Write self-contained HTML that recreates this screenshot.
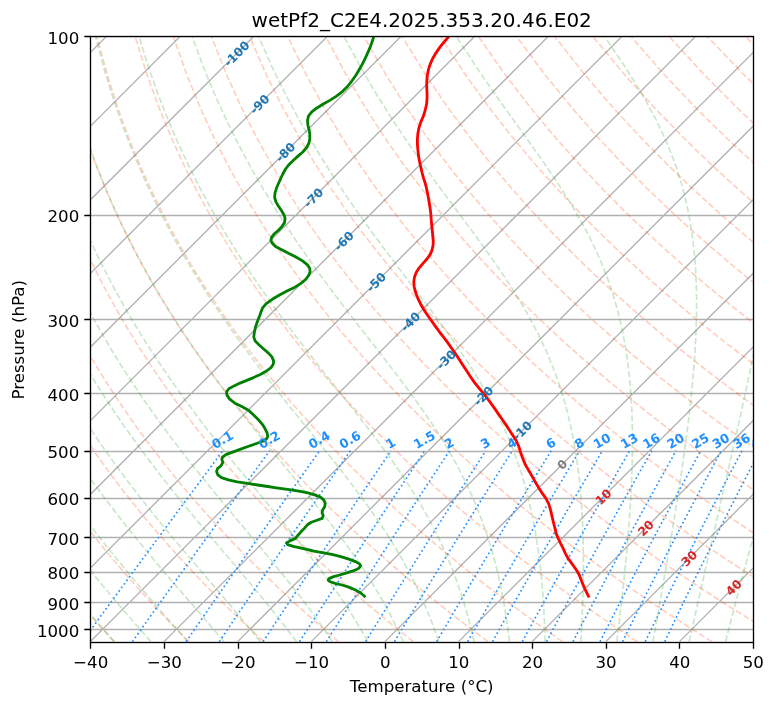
<!DOCTYPE html>
<html><head><meta charset="utf-8"><title>wetPf2_C2E4.2025.353.20.46.E02</title>
<style>html,body{margin:0;padding:0;background:#fff}body{width:775px;height:708px;overflow:hidden}</style></head>
<body>
<svg width="775" height="708" viewBox="0 0 775 708" style="display:block">
<rect width="775" height="708" fill="#fff"/>
<defs><clipPath id="ax"><rect x="90.5" y="36.5" width="663" height="606"/></clipPath></defs>
<g clip-path="url(#ax)" fill="none">
<path d="M90.38,36.50 H754.08 M90.38,215.50 H754.08 M90.38,319.50 H754.08 M90.38,393.50 H754.08 M90.38,451.50 H754.08 M90.38,498.50 H754.08 M90.38,537.50 H754.08 M90.38,572.50 H754.08 M90.38,602.50 H754.08 M90.38,629.50 H754.08 M-572.32,641.62 L32.98,36.32 M-498.69,641.62 L106.61,36.32 M-425.05,641.62 L180.25,36.32 M-351.42,641.62 L253.88,36.32 M-277.79,641.62 L327.51,36.32 M-204.15,641.62 L401.15,36.32 M-130.52,641.62 L474.78,36.32 M-56.89,641.62 L548.41,36.32 M16.75,641.62 L622.05,36.32 M90.38,641.62 L695.68,36.32 M164.01,641.62 L769.31,36.32 M237.65,641.62 L842.95,36.32 M311.28,641.62 L916.58,36.32 M384.91,641.62 L990.21,36.32 M458.55,641.62 L1063.85,36.32 M532.18,641.62 L1137.48,36.32 M605.81,641.62 L1211.11,36.32 M679.45,641.62 L1284.75,36.32 M753.08,641.62 L1358.38,36.32" stroke="#b0b0b0" stroke-width="1.333"/>
<path d="M114.48,641.62 L110.79,637.64 L107.07,633.60 L103.33,629.50 L99.57,625.32 L95.79,621.08 L91.97,616.77 L88.14,612.39 L84.27,607.93 L80.39,603.39 L76.47,598.77 L72.53,594.06 L68.56,589.27 L64.57,584.39 L60.54,579.41 L56.49,574.33 L52.41,569.15 L48.30,563.87 L44.16,558.47 L39.99,552.96 L35.79,547.33 L31.56,541.57 L27.30,535.68 L23.01,529.65 L18.69,523.48 L14.33,517.16 L9.94,510.67 L5.52,504.02 L1.07,497.20 L-3.42,490.19 L-7.94,482.98 L-12.49,475.56 L-17.07,467.92 L-21.68,460.05 L-26.33,451.93 L-31.01,443.55 L-35.72,434.89 L-40.46,425.92 L-45.22,416.63 L-50.02,406.99 L-54.83,396.97 L-59.67,386.56 L-64.52,375.70 L-69.39,364.36 L-74.27,352.50 L-79.14,340.07 L-84.01,327.01 L-88.86,313.24 L-93.67,298.71 L-98.44,283.30 L-103.13,266.91 L-107.73,249.40 L-112.19,230.62 L-116.46,210.35 L-120.48,188.36 L-124.15,164.30 L-127.36,137.77 L-129.92,108.19 L-131.57,74.75 L-131.89,36.32 M189.15,641.62 L185.13,637.64 L181.08,633.60 L177.00,629.50 L172.90,625.32 L168.77,621.08 L164.61,616.77 L160.42,612.39 L156.20,607.93 L151.95,603.39 L147.67,598.77 L143.36,594.06 L139.01,589.27 L134.64,584.39 L130.23,579.41 L125.78,574.33 L121.31,569.15 L116.79,563.87 L112.24,558.47 L107.66,552.96 L103.04,547.33 L98.38,541.57 L93.68,535.68 L88.95,529.65 L84.18,523.48 L79.36,517.16 L74.51,510.67 L69.61,504.02 L64.68,497.20 L59.70,490.19 L54.68,482.98 L49.61,475.56 L44.51,467.92 L39.35,460.05 L34.16,451.93 L28.92,443.55 L23.64,434.89 L18.31,425.92 L12.94,416.63 L7.53,406.99 L2.08,396.97 L-3.41,386.56 L-8.94,375.70 L-14.50,364.36 L-20.09,352.50 L-25.71,340.07 L-31.35,327.01 L-37.00,313.24 L-42.64,298.71 L-48.27,283.30 L-53.87,266.91 L-59.42,249.40 L-64.87,230.62 L-70.19,210.35 L-75.33,188.36 L-80.19,164.30 L-84.68,137.77 L-88.62,108.19 L-91.77,74.75 L-93.75,36.32 M263.81,641.62 L259.46,637.64 L255.08,633.60 L250.67,629.50 L246.23,625.32 L241.75,621.08 L237.25,616.77 L232.70,612.39 L228.13,607.93 L223.52,603.39 L218.87,598.77 L214.19,594.06 L209.47,589.27 L204.71,584.39 L199.91,579.41 L195.08,574.33 L190.20,569.15 L185.29,563.87 L180.33,558.47 L175.33,552.96 L170.29,547.33 L165.20,541.57 L160.07,535.68 L154.89,529.65 L149.67,523.48 L144.40,517.16 L139.08,510.67 L133.71,504.02 L128.28,497.20 L122.81,490.19 L117.29,482.98 L111.71,475.56 L106.08,467.92 L100.39,460.05 L94.65,451.93 L88.85,443.55 L83.00,434.89 L77.08,425.92 L71.11,416.63 L65.08,406.99 L58.99,396.97 L52.85,386.56 L46.64,375.70 L40.39,364.36 L34.08,352.50 L27.72,340.07 L21.31,327.01 L14.87,313.24 L8.39,298.71 L1.89,283.30 L-4.61,266.91 L-11.10,249.40 L-17.55,230.62 L-23.93,210.35 L-30.18,188.36 L-36.23,164.30 L-41.99,137.77 L-47.31,108.19 L-51.97,74.75 L-55.61,36.32 M338.48,641.62 L333.80,637.64 L329.09,633.60 L324.34,629.50 L319.56,625.32 L314.74,621.08 L309.88,616.77 L304.99,612.39 L300.05,607.93 L295.08,603.39 L290.07,598.77 L285.01,594.06 L279.92,589.27 L274.78,584.39 L269.60,579.41 L264.37,574.33 L259.10,569.15 L253.78,563.87 L248.41,558.47 L243.00,552.96 L237.53,547.33 L232.02,541.57 L226.45,535.68 L220.83,529.65 L215.16,523.48 L209.43,517.16 L203.64,510.67 L197.80,504.02 L191.89,497.20 L185.93,490.19 L179.90,482.98 L173.81,475.56 L167.65,467.92 L161.43,460.05 L155.14,451.93 L148.78,443.55 L142.35,434.89 L135.85,425.92 L129.28,416.63 L122.63,406.99 L115.90,396.97 L109.10,386.56 L102.23,375.70 L95.28,364.36 L88.25,352.50 L81.14,340.07 L73.97,327.01 L66.73,313.24 L59.42,298.71 L52.06,283.30 L44.65,266.91 L37.21,249.40 L29.76,230.62 L22.34,210.35 L14.97,188.36 L7.73,164.30 L0.69,137.77 L-6.01,108.19 L-12.17,74.75 L-17.47,36.32 M413.15,641.62 L408.14,637.64 L403.09,633.60 L398.01,629.50 L392.89,625.32 L387.72,621.08 L382.52,616.77 L377.27,612.39 L371.98,607.93 L366.65,603.39 L361.27,598.77 L355.84,594.06 L350.37,589.27 L344.85,584.39 L339.28,579.41 L333.66,574.33 L328.00,569.15 L322.27,563.87 L316.50,558.47 L310.67,552.96 L304.78,547.33 L298.84,541.57 L292.84,535.68 L286.77,529.65 L280.65,523.48 L274.46,517.16 L268.21,510.67 L261.89,504.02 L255.50,497.20 L249.04,490.19 L242.51,482.98 L235.91,475.56 L229.23,467.92 L222.47,460.05 L215.63,451.93 L208.71,443.55 L201.71,434.89 L194.62,425.92 L187.44,416.63 L180.18,406.99 L172.82,396.97 L165.36,386.56 L157.81,375.70 L150.16,364.36 L142.42,352.50 L134.57,340.07 L126.63,327.01 L118.59,313.24 L110.45,298.71 L102.22,283.30 L93.91,266.91 L85.53,249.40 L77.08,230.62 L68.60,210.35 L60.12,188.36 L51.68,164.30 L43.37,137.77 L35.30,108.19 L27.63,74.75 L20.66,36.32 M487.81,641.62 L482.48,637.64 L477.10,633.60 L471.68,629.50 L466.22,625.32 L460.71,621.08 L455.15,616.77 L449.55,612.39 L443.91,607.93 L438.21,603.39 L432.47,598.77 L426.67,594.06 L420.82,589.27 L414.92,584.39 L408.97,579.41 L402.96,574.33 L396.89,569.15 L390.77,563.87 L384.58,558.47 L378.34,552.96 L372.03,547.33 L365.66,541.57 L359.22,535.68 L352.72,529.65 L346.14,523.48 L339.50,517.16 L332.78,510.67 L325.98,504.02 L319.11,497.20 L312.16,490.19 L305.13,482.98 L298.01,475.56 L290.80,467.92 L283.51,460.05 L276.13,451.93 L268.65,443.55 L261.07,434.89 L253.39,425.92 L245.61,416.63 L237.72,406.99 L229.73,396.97 L221.62,386.56 L213.40,375.70 L205.05,364.36 L196.59,352.50 L188.00,340.07 L179.29,327.01 L170.45,313.24 L161.48,298.71 L152.39,283.30 L143.17,266.91 L133.84,249.40 L124.40,230.62 L114.87,210.35 L105.27,188.36 L95.64,164.30 L86.06,137.77 L76.60,108.19 L67.43,74.75 L58.80,36.32 M562.48,641.62 L556.82,637.64 L551.11,633.60 L545.35,629.50 L539.54,625.32 L533.69,621.08 L527.79,616.77 L521.84,612.39 L515.83,607.93 L509.78,603.39 L503.66,598.77 L497.50,594.06 L491.27,589.27 L484.99,584.39 L478.65,579.41 L472.25,574.33 L465.79,569.15 L459.26,563.87 L452.67,558.47 L446.01,552.96 L439.28,547.33 L432.48,541.57 L425.60,535.68 L418.66,529.65 L411.63,523.48 L404.53,517.16 L397.34,510.67 L390.07,504.02 L382.72,497.20 L375.27,490.19 L367.74,482.98 L360.11,475.56 L352.38,467.92 L344.55,460.05 L336.62,451.93 L328.58,443.55 L320.43,434.89 L312.16,425.92 L303.78,416.63 L295.27,406.99 L286.64,396.97 L277.88,386.56 L268.98,375.70 L259.94,364.36 L250.76,352.50 L241.43,340.07 L231.95,327.01 L222.31,313.24 L212.51,298.71 L202.56,283.30 L192.43,266.91 L182.15,249.40 L171.71,230.62 L161.13,210.35 L150.42,188.36 L139.60,164.30 L128.74,137.77 L117.90,108.19 L107.23,74.75 L96.94,36.32 M637.15,641.62 L631.15,637.64 L625.11,633.60 L619.02,629.50 L612.87,625.32 L606.68,621.08 L600.43,616.77 L594.12,612.39 L587.76,607.93 L581.34,603.39 L574.86,598.77 L568.33,594.06 L561.73,589.27 L555.06,584.39 L548.34,579.41 L541.55,574.33 L534.68,569.15 L527.75,563.87 L520.75,558.47 L513.68,552.96 L506.53,547.33 L499.30,541.57 L491.99,535.68 L484.60,529.65 L477.12,523.48 L469.56,517.16 L461.91,510.67 L454.17,504.02 L446.33,497.20 L438.39,490.19 L430.35,482.98 L422.21,475.56 L413.95,467.92 L405.59,460.05 L397.11,451.93 L388.51,443.55 L379.78,434.89 L370.93,425.92 L361.95,416.63 L352.82,406.99 L343.55,396.97 L334.13,386.56 L324.56,375.70 L314.83,364.36 L304.93,352.50 L294.86,340.07 L284.61,327.01 L274.17,313.24 L263.55,298.71 L252.72,283.30 L241.70,266.91 L230.47,249.40 L219.03,230.62 L207.39,210.35 L195.57,188.36 L183.56,164.30 L171.42,137.77 L159.21,108.19 L147.03,74.75 L135.08,36.32 M711.82,641.62 L705.49,637.64 L699.12,633.60 L692.69,629.50 L686.20,625.32 L679.66,621.08 L673.06,616.77 L666.40,612.39 L659.68,607.93 L652.90,603.39 L646.06,598.77 L639.15,594.06 L632.18,589.27 L625.14,584.39 L618.02,579.41 L610.84,574.33 L603.58,569.15 L596.25,563.87 L588.84,558.47 L581.35,552.96 L573.77,547.33 L566.12,541.57 L558.37,535.68 L550.54,529.65 L542.61,523.48 L534.59,517.16 L526.48,510.67 L518.26,504.02 L509.93,497.20 L501.50,490.19 L492.96,482.98 L484.30,475.56 L475.53,467.92 L466.63,460.05 L457.60,451.93 L448.44,443.55 L439.14,434.89 L429.70,425.92 L420.11,416.63 L410.37,406.99 L400.46,396.97 L390.39,386.56 L380.15,375.70 L369.72,364.36 L359.10,352.50 L348.29,340.07 L337.27,327.01 L326.03,313.24 L314.58,298.71 L302.89,283.30 L290.96,266.91 L278.78,249.40 L266.35,230.62 L253.66,210.35 L240.71,188.36 L227.52,164.30 L214.11,137.77 L200.51,108.19 L186.83,74.75 L173.22,36.32 M786.48,641.62 L779.83,637.64 L773.12,633.60 L766.36,629.50 L759.53,625.32 L752.64,621.08 L745.70,616.77 L738.69,612.39 L731.61,607.93 L724.47,603.39 L717.26,598.77 L709.98,594.06 L702.63,589.27 L695.21,584.39 L687.71,579.41 L680.13,574.33 L672.48,569.15 L664.74,563.87 L656.92,558.47 L649.02,552.96 L641.02,547.33 L632.94,541.57 L624.76,535.68 L616.48,529.65 L608.11,523.48 L599.63,517.16 L591.04,510.67 L582.35,504.02 L573.54,497.20 L564.62,490.19 L555.57,482.98 L546.40,475.56 L537.10,467.92 L527.67,460.05 L518.09,451.93 L508.37,443.55 L498.50,434.89 L488.47,425.92 L478.28,416.63 L467.92,406.99 L457.38,396.97 L446.65,386.56 L435.73,375.70 L424.61,364.36 L413.27,352.50 L401.72,340.07 L389.93,327.01 L377.90,313.24 L365.61,298.71 L353.05,283.30 L340.22,266.91 L327.09,249.40 L313.66,230.62 L299.92,210.35 L285.86,188.36 L271.48,164.30 L256.79,137.77 L241.82,108.19 L226.63,74.75 L211.35,36.32 M861.15,641.62 L854.17,637.64 L847.13,633.60 L840.02,629.50 L832.86,625.32 L825.63,621.08 L818.33,616.77 L810.97,612.39 L803.54,607.93 L796.03,603.39 L788.46,598.77 L780.81,594.06 L773.08,589.27 L765.28,584.39 L757.39,579.41 L749.43,574.33 L741.37,569.15 L733.23,563.87 L725.01,558.47 L716.69,552.96 L708.27,547.33 L699.76,541.57 L691.14,535.68 L682.42,529.65 L673.60,523.48 L664.66,517.16 L655.61,510.67 L646.44,504.02 L637.15,497.20 L627.73,490.19 L618.19,482.98 L608.50,475.56 L598.68,467.92 L588.71,460.05 L578.58,451.93 L568.30,443.55 L557.86,434.89 L547.24,425.92 L536.45,416.63 L525.46,406.99 L514.29,396.97 L502.91,386.56 L491.31,375.70 L479.50,364.36 L467.44,352.50 L455.15,340.07 L442.59,327.01 L429.76,313.24 L416.64,298.71 L403.22,283.30 L389.48,266.91 L375.41,249.40 L360.98,230.62 L346.19,210.35 L331.01,188.36 L315.44,164.30 L299.47,137.77 L283.12,108.19 L266.43,74.75 L249.49,36.32 M935.82,641.62 L928.51,637.64 L921.13,633.60 L913.69,629.50 L906.19,625.32 L898.61,621.08 L890.97,616.77 L883.25,612.39 L875.46,607.93 L867.60,603.39 L859.66,598.77 L851.64,594.06 L843.54,589.27 L835.35,584.39 L827.08,579.41 L818.72,574.33 L810.27,569.15 L801.73,563.87 L793.09,558.47 L784.35,552.96 L775.52,547.33 L766.57,541.57 L757.52,535.68 L748.36,529.65 L739.09,523.48 L729.69,517.16 L720.18,510.67 L710.53,504.02 L700.76,497.20 L690.85,490.19 L680.80,482.98 L670.60,475.56 L660.25,467.92 L649.75,460.05 L639.08,451.93 L628.23,443.55 L617.22,434.89 L606.01,425.92 L594.61,416.63 L583.01,406.99 L571.20,396.97 L559.17,386.56 L546.90,375.70 L534.39,364.36 L521.61,352.50 L508.57,340.07 L495.25,327.01 L481.62,313.24 L467.67,298.71 L453.38,283.30 L438.74,266.91 L423.72,249.40 L408.30,230.62 L392.45,210.35 L376.16,188.36 L359.40,164.30 L342.16,137.77 L324.43,108.19 L306.23,74.75 L287.63,36.32 M1010.48,641.62 L1002.84,637.64 L995.14,633.60 L987.36,629.50 L979.52,625.32 L971.60,621.08 L963.61,616.77 L955.54,612.39 L947.39,607.93 L939.16,603.39 L930.86,598.77 L922.47,594.06 L913.99,589.27 L905.42,584.39 L896.76,579.41 L888.01,574.33 L879.17,569.15 L870.22,563.87 L861.18,558.47 L852.02,552.96 L842.76,547.33 L833.39,541.57 L823.91,535.68 L814.31,529.65 L804.58,523.48 L794.73,517.16 L784.74,510.67 L774.63,504.02 L764.37,497.20 L753.96,490.19 L743.41,482.98 L732.70,475.56 L721.83,467.92 L710.79,460.05 L699.57,451.93 L688.17,443.55 L676.57,434.89 L664.78,425.92 L652.78,416.63 L640.56,406.99 L628.11,396.97 L615.42,386.56 L602.48,375.70 L589.27,364.36 L575.79,352.50 L562.00,340.07 L547.91,327.01 L533.48,313.24 L518.70,298.71 L503.55,283.30 L488.00,266.91 L472.03,249.40 L455.61,230.62 L438.72,210.35 L421.31,188.36 L403.36,164.30 L384.84,137.77 L365.73,108.19 L346.03,74.75 L325.77,36.32 M1085.15,641.62 L1077.18,637.64 L1069.14,633.60 L1061.03,629.50 L1052.84,625.32 L1044.58,621.08 L1036.24,616.77 L1027.82,612.39 L1019.32,607.93 L1010.73,603.39 L1002.06,598.77 L993.29,594.06 L984.44,589.27 L975.49,584.39 L966.45,579.41 L957.31,574.33 L948.06,569.15 L938.72,563.87 L929.26,558.47 L919.69,552.96 L910.01,547.33 L900.21,541.57 L890.29,535.68 L880.25,529.65 L870.07,523.48 L859.76,517.16 L849.31,510.67 L838.72,504.02 L827.98,497.20 L817.08,490.19 L806.02,482.98 L794.80,475.56 L783.40,467.92 L771.82,460.05 L760.06,451.93 L748.10,443.55 L735.93,434.89 L723.55,425.92 L710.95,416.63 L698.11,406.99 L685.02,396.97 L671.68,386.56 L658.07,375.70 L644.16,364.36 L629.96,352.50 L615.43,340.07 L600.57,327.01 L585.34,313.24 L569.73,298.71 L553.72,283.30 L537.26,266.91 L520.35,249.40 L502.93,230.62 L484.98,210.35 L466.46,188.36 L447.32,164.30 L427.53,137.77 L407.04,108.19 L385.83,74.75 L363.91,36.32 M1159.82,641.62 L1151.52,637.64 L1143.15,633.60 L1134.70,629.50 L1126.17,625.32 L1117.57,621.08 L1108.88,616.77 L1100.10,612.39 L1091.24,607.93 L1082.29,603.39 L1073.25,598.77 L1064.12,594.06 L1054.89,589.27 L1045.56,584.39 L1036.13,579.41 L1026.60,574.33 L1016.96,569.15 L1007.21,563.87 L997.34,558.47 L987.36,552.96 L977.26,547.33 L967.03,541.57 L956.68,535.68 L946.19,529.65 L935.56,523.48 L924.79,517.16 L913.88,510.67 L902.81,504.02 L891.58,497.20 L880.19,490.19 L868.63,482.98 L856.90,475.56 L844.98,467.92 L832.86,460.05 L820.55,451.93 L808.03,443.55 L795.29,434.89 L782.32,425.92 L769.11,416.63 L755.66,406.99 L741.94,396.97 L727.94,386.56 L713.65,375.70 L699.05,364.36 L684.13,352.50 L668.86,340.07 L653.23,327.01 L637.20,313.24 L620.76,298.71 L603.88,283.30 L586.53,266.91 L568.66,249.40 L550.25,230.62 L531.25,210.35 L511.61,188.36 L491.28,164.30 L470.21,137.77 L448.34,108.19 L425.63,74.75 L402.05,36.32 M1234.48,641.62 L1225.86,637.64 L1217.15,633.60 L1208.37,629.50 L1199.50,625.32 L1190.55,621.08 L1181.51,616.77 L1172.39,612.39 L1163.17,607.93 L1153.86,603.39 L1144.45,598.77 L1134.95,594.06 L1125.34,589.27 L1115.63,584.39 L1105.82,579.41 L1095.89,574.33 L1085.86,569.15 L1075.70,563.87 L1065.43,558.47 L1055.03,552.96 L1044.51,547.33 L1033.85,541.57 L1023.06,535.68 L1012.13,529.65 L1001.05,523.48 L989.83,517.16 L978.45,510.67 L966.90,504.02 L955.19,497.20 L943.31,490.19 L931.25,482.98 L919.00,475.56 L906.55,467.92 L893.90,460.05 L881.04,451.93 L867.96,443.55 L854.65,434.89 L841.09,425.92 L827.28,416.63 L813.21,406.99 L798.85,396.97 L784.20,386.56 L769.23,375.70 L753.94,364.36 L738.30,352.50 L722.29,340.07 L705.89,327.01 L689.06,313.24 L671.79,298.71 L654.05,283.30 L635.79,266.91 L616.97,249.40 L597.56,230.62 L577.51,210.35 L556.75,188.36 L535.24,164.30 L512.89,137.77 L489.65,108.19 L465.43,74.75 L440.18,36.32 M1309.15,641.62 L1300.20,637.64 L1291.16,633.60 L1282.04,629.50 L1272.83,625.32 L1263.54,621.08 L1254.15,616.77 L1244.67,612.39 L1235.10,607.93 L1225.42,603.39 L1215.65,598.77 L1205.78,594.06 L1195.80,589.27 L1185.71,584.39 L1175.50,579.41 L1165.19,574.33 L1154.75,569.15 L1144.20,563.87 L1133.51,558.47 L1122.70,552.96 L1111.76,547.33 L1100.67,541.57 L1089.44,535.68 L1078.07,529.65 L1066.54,523.48 L1054.86,517.16 L1043.01,510.67 L1030.99,504.02 L1018.80,497.20 L1006.42,490.19 L993.86,482.98 L981.10,475.56 L968.13,467.92 L954.94,460.05 L941.53,451.93 L927.89,443.55 L914.00,434.89 L899.86,425.92 L885.45,416.63 L870.75,406.99 L855.76,396.97 L840.45,386.56 L824.82,375.70 L808.83,364.36 L792.47,352.50 L775.72,340.07 L758.54,327.01 L740.92,313.24 L722.83,298.71 L704.21,283.30 L685.05,266.91 L665.29,249.40 L644.88,230.62 L623.77,210.35 L601.90,188.36 L579.20,164.30 L555.58,137.77 L530.95,108.19 L505.23,74.75 L478.32,36.32 M1383.82,641.62 L1374.53,637.64 L1365.16,633.60 L1355.71,629.50 L1346.16,625.32 L1336.52,621.08 L1326.78,616.77 L1316.95,612.39 L1307.02,607.93 L1296.99,603.39 L1286.85,598.77 L1276.60,594.06 L1266.25,589.27 L1255.78,584.39 L1245.19,579.41 L1234.48,574.33 L1223.65,569.15 L1212.69,563.87 L1201.60,558.47 L1190.37,552.96 L1179.00,547.33 L1167.49,541.57 L1155.83,535.68 L1144.01,529.65 L1132.04,523.48 L1119.89,517.16 L1107.58,510.67 L1095.09,504.02 L1082.41,497.20 L1069.54,490.19 L1056.47,482.98 L1043.19,475.56 L1029.70,467.92 L1015.98,460.05 L1002.03,451.93 L987.82,443.55 L973.36,434.89 L958.63,425.92 L943.62,416.63 L928.30,406.99 L912.67,396.97 L896.71,386.56 L880.40,375.70 L863.72,364.36 L846.64,352.50 L829.15,340.07 L811.20,327.01 L792.79,313.24 L773.86,298.71 L754.38,283.30 L734.31,266.91 L713.60,249.40 L692.20,230.62 L670.04,210.35 L647.05,188.36 L623.16,164.30 L598.26,137.77 L572.26,108.19 L545.03,74.75 L516.46,36.32 M1458.48,641.62 L1448.87,637.64 L1439.17,633.60 L1429.38,629.50 L1419.49,625.32 L1409.50,621.08 L1399.42,616.77 L1389.24,612.39 L1378.95,607.93 L1368.55,603.39 L1358.05,598.77 L1347.43,594.06 L1336.70,589.27 L1325.85,584.39 L1314.88,579.41 L1303.78,574.33 L1292.55,569.15 L1281.18,563.87 L1269.68,558.47 L1258.04,552.96 L1246.25,547.33 L1234.31,541.57 L1222.21,535.68 L1209.95,529.65 L1197.53,523.48 L1184.93,517.16 L1172.15,510.67 L1159.18,504.02 L1146.02,497.20 L1132.66,490.19 L1119.08,482.98 L1105.29,475.56 L1091.28,467.92 L1077.02,460.05 L1062.52,451.93 L1047.75,443.55 L1032.72,434.89 L1017.40,425.92 L1001.78,416.63 L985.85,406.99 L969.58,396.97 L952.97,386.56 L935.98,375.70 L918.61,364.36 L900.81,352.50 L882.57,340.07 L863.86,327.01 L844.65,313.24 L824.89,298.71 L804.55,283.30 L783.57,266.91 L761.92,249.40 L739.52,230.62 L716.30,210.35 L692.20,188.36 L667.12,164.30 L640.94,137.77 L613.56,108.19 L584.83,74.75 L554.60,36.32 M1533.15,641.62 L1523.21,637.64 L1513.18,633.60 L1503.05,629.50 L1492.82,625.32 L1482.49,621.08 L1472.06,616.77 L1461.52,612.39 L1450.87,607.93 L1440.12,603.39 L1429.25,598.77 L1418.26,594.06 L1407.15,589.27 L1395.92,584.39 L1384.56,579.41 L1373.07,574.33 L1361.44,569.15 L1349.68,563.87 L1337.77,558.47 L1325.71,552.96 L1313.50,547.33 L1301.13,541.57 L1288.60,535.68 L1275.89,529.65 L1263.02,523.48 L1249.96,517.16 L1236.71,510.67 L1223.27,504.02 L1209.63,497.20 L1195.77,490.19 L1181.70,482.98 L1167.39,475.56 L1152.85,467.92 L1138.06,460.05 L1123.01,451.93 L1107.69,443.55 L1092.08,434.89 L1076.17,425.92 L1059.95,416.63 L1043.40,406.99 L1026.50,396.97 L1009.23,386.56 L991.57,375.70 L973.49,364.36 L954.98,352.50 L936.00,340.07 L916.52,327.01 L896.51,313.24 L875.92,298.71 L854.71,283.30 L832.83,266.91 L810.23,249.40 L786.83,230.62 L762.57,210.35 L737.35,188.36 L711.08,164.30 L683.63,137.77 L654.87,108.19 L624.63,74.75 L592.74,36.32 M1607.82,641.62 L1597.55,637.64 L1587.18,633.60 L1576.71,629.50 L1566.15,625.32 L1555.47,621.08 L1544.69,616.77 L1533.80,612.39 L1522.80,607.93 L1511.68,603.39 L1500.45,598.77 L1489.09,594.06 L1477.60,589.27 L1465.99,584.39 L1454.25,579.41 L1442.36,574.33 L1430.34,569.15 L1418.17,563.87 L1405.85,558.47 L1393.38,552.96 L1380.75,547.33 L1367.95,541.57 L1354.98,535.68 L1341.84,529.65 L1328.51,523.48 L1314.99,517.16 L1301.28,510.67 L1287.36,504.02 L1273.23,497.20 L1258.89,490.19 L1244.31,482.98 L1229.49,475.56 L1214.42,467.92 L1199.10,460.05 L1183.50,451.93 L1167.62,443.55 L1151.44,434.89 L1134.94,425.92 L1118.12,416.63 L1100.95,406.99 L1083.41,396.97 L1065.48,386.56 L1047.15,375.70 L1028.38,364.36 L1009.15,352.50 L989.43,340.07 L969.18,327.01 L948.37,313.24 L926.95,298.71 L904.88,283.30 L882.09,266.91 L858.54,249.40 L834.15,230.62 L808.83,210.35 L782.50,188.36 L755.03,164.30 L726.31,137.77 L696.17,108.19 L664.43,74.75 L630.87,36.32 M1682.49,641.62 L1671.89,637.64 L1661.19,633.60 L1650.38,629.50 L1639.47,625.32 L1628.46,621.08 L1617.33,616.77 L1606.09,612.39 L1594.73,607.93 L1583.25,603.39 L1571.65,598.77 L1559.92,594.06 L1548.06,589.27 L1536.06,584.39 L1523.93,579.41 L1511.66,574.33 L1499.24,569.15 L1486.66,563.87 L1473.94,558.47 L1461.05,552.96 L1447.99,547.33 L1434.77,541.57 L1421.36,535.68 L1407.78,529.65 L1394.00,523.48 L1380.03,517.16 L1365.85,510.67 L1351.45,504.02 L1336.84,497.20 L1322.00,490.19 L1306.92,482.98 L1291.59,475.56 L1276.00,467.92 L1260.14,460.05 L1243.99,451.93 L1227.55,443.55 L1210.79,434.89 L1193.71,425.92 L1176.28,416.63 L1158.49,406.99 L1140.32,396.97 L1121.74,386.56 L1102.73,375.70 L1083.27,364.36 L1063.32,352.50 L1042.86,340.07 L1021.84,327.01 L1000.23,313.24 L977.98,298.71 L955.04,283.30 L931.36,266.91 L906.86,249.40 L881.47,230.62 L855.10,210.35 L827.65,188.36 L798.99,164.30 L769.00,137.77 L737.48,108.19 L704.23,74.75 L669.01,36.32 M1757.15,641.62 L1746.22,637.64 L1735.19,633.60 L1724.05,629.50 L1712.80,625.32 L1701.44,621.08 L1689.96,616.77 L1678.37,612.39 L1666.65,607.93 L1654.81,603.39 L1642.84,598.77 L1630.74,594.06 L1618.51,589.27 L1606.13,584.39 L1593.62,579.41 L1580.95,574.33 L1568.13,569.15 L1555.16,563.87 L1542.02,558.47 L1528.72,552.96 L1515.24,547.33 L1501.59,541.57 L1487.75,535.68 L1473.72,529.65 L1459.49,523.48 L1445.06,517.16 L1430.41,510.67 L1415.55,504.02 L1400.45,497.20 L1385.12,490.19 L1369.53,482.98 L1353.69,475.56 L1337.57,467.92 L1321.18,460.05 L1304.48,451.93 L1287.48,443.55 L1270.15,434.89 L1252.48,425.92 L1234.45,416.63 L1216.04,406.99 L1197.23,396.97 L1178.00,386.56 L1158.32,375.70 L1138.16,364.36 L1117.50,352.50 L1096.29,340.07 L1074.50,327.01 L1052.09,313.24 L1029.01,298.71 L1005.21,283.30 L980.62,266.91 L955.17,249.40 L928.78,230.62 L901.36,210.35 L872.80,188.36 L842.95,164.30 L811.68,137.77 L778.78,108.19 L744.03,74.75 L707.15,36.32 M1831.82,641.62 L1820.56,637.64 L1809.20,633.60 L1797.72,629.50 L1786.13,625.32 L1774.43,621.08 L1762.60,616.77 L1750.65,612.39 L1738.58,607.93 L1726.38,603.39 L1714.04,598.77 L1701.57,594.06 L1688.96,589.27 L1676.21,584.39 L1663.30,579.41 L1650.24,574.33 L1637.03,569.15 L1623.65,563.87 L1610.11,558.47 L1596.39,552.96 L1582.49,547.33 L1568.41,541.57 L1554.13,535.68 L1539.66,529.65 L1524.98,523.48 L1510.09,517.16 L1494.98,510.67 L1479.64,504.02 L1464.06,497.20 L1448.23,490.19 L1432.14,482.98 L1415.79,475.56 L1399.15,467.92 L1382.22,460.05 L1364.98,451.93 L1347.41,443.55 L1329.51,434.89 L1311.25,425.92 L1292.62,416.63 L1273.59,406.99 L1254.14,396.97 L1234.26,386.56 L1213.90,375.70 L1193.05,364.36 L1171.67,352.50 L1149.72,340.07 L1127.16,327.01 L1103.95,313.24 L1080.04,298.71 L1055.37,283.30 L1029.88,266.91 L1003.48,249.40 L976.10,230.62 L947.63,210.35 L917.94,188.36 L886.91,164.30 L854.36,137.77 L820.09,108.19 L783.83,74.75 L745.29,36.32 M1906.49,641.62 L1894.90,637.64 L1883.20,633.60 L1871.39,629.50 L1859.46,625.32 L1847.41,621.08 L1835.24,616.77 L1822.94,612.39 L1810.51,607.93 L1797.94,603.39 L1785.24,598.77 L1772.40,594.06 L1759.41,589.27 L1746.28,584.39 L1732.99,579.41 L1719.54,574.33 L1705.93,569.15 L1692.14,563.87 L1678.19,558.47 L1664.06,552.96 L1649.74,547.33 L1635.23,541.57 L1620.52,535.68 L1605.60,529.65 L1590.47,523.48 L1575.13,517.16 L1559.55,510.67 L1543.73,504.02 L1527.67,497.20 L1511.35,490.19 L1494.76,482.98 L1477.89,475.56 L1460.72,467.92 L1443.26,460.05 L1425.47,451.93 L1407.34,443.55 L1388.87,434.89 L1370.02,425.92 L1350.78,416.63 L1331.14,406.99 L1311.06,396.97 L1290.52,386.56 L1269.49,375.70 L1247.94,364.36 L1225.84,352.50 L1203.15,340.07 L1179.82,327.01 L1155.82,313.24 L1131.08,298.71 L1105.54,283.30 L1079.14,266.91 L1051.80,249.40 L1023.42,230.62 L993.89,210.35 L963.09,188.36 L930.87,164.30 L897.05,137.77 L861.39,108.19 L823.63,74.75 L783.43,36.32 M1981.15,641.62 L1969.24,637.64 L1957.21,633.60 L1945.06,629.50 L1932.79,625.32 L1920.39,621.08 L1907.87,616.77 L1895.22,612.39 L1882.43,607.93 L1869.51,603.39 L1856.44,598.77 L1843.23,594.06 L1829.87,589.27 L1816.35,584.39 L1802.67,579.41 L1788.83,574.33 L1774.82,569.15 L1760.64,563.87 L1746.28,558.47 L1731.73,552.96 L1716.99,547.33 L1702.05,541.57 L1686.90,535.68 L1671.54,529.65 L1655.97,523.48 L1640.16,517.16 L1624.11,510.67 L1607.82,504.02 L1591.28,497.20 L1574.46,490.19 L1557.37,482.98 L1539.98,475.56 L1522.30,467.92 L1504.29,460.05 L1485.96,451.93 L1467.27,443.55 L1448.22,434.89 L1428.79,425.92 L1408.95,416.63 L1388.69,406.99 L1367.97,396.97 L1346.77,386.56 L1325.07,375.70 L1302.83,364.36 L1280.01,352.50 L1256.57,340.07 L1232.48,327.01 L1207.68,313.24 L1182.11,298.71 L1155.71,283.30 L1128.40,266.91 L1100.11,249.40 L1070.73,230.62 L1040.15,210.35 L1008.24,188.36 L974.83,164.30 L939.73,137.77 L902.70,108.19 L863.43,74.75 L821.57,36.32 M2055.82,641.62 L2043.58,637.64 L2031.21,633.60 L2018.73,629.50 L2006.12,625.32 L1993.38,621.08 L1980.51,616.77 L1967.50,612.39 L1954.36,607.93 L1941.07,603.39 L1927.64,598.77 L1914.06,594.06 L1900.32,589.27 L1886.42,584.39 L1872.36,579.41 L1858.12,574.33 L1843.72,569.15 L1829.13,563.87 L1814.36,558.47 L1799.40,552.96 L1784.23,547.33 L1768.86,541.57 L1753.28,535.68 L1737.48,529.65 L1721.46,523.48 L1705.19,517.16 L1688.68,510.67 L1671.92,504.02 L1654.88,497.20 L1637.58,490.19 L1619.98,482.98 L1602.08,475.56 L1583.87,467.92 L1565.33,460.05 L1546.45,451.93 L1527.21,443.55 L1507.58,434.89 L1487.56,425.92 L1467.12,416.63 L1446.23,406.99 L1424.88,396.97 L1403.03,386.56 L1380.65,375.70 L1357.72,364.36 L1334.18,352.50 L1310.00,340.07 L1285.14,327.01 L1259.54,313.24 L1233.14,298.71 L1205.87,283.30 L1177.66,266.91 L1148.42,249.40 L1118.05,230.62 L1086.42,210.35 L1053.39,188.36 L1018.79,164.30 L982.41,137.77 L944.00,108.19 L903.23,74.75 L859.70,36.32 M2130.49,641.62 L2117.91,637.64 L2105.22,633.60 L2092.40,629.50 L2079.45,625.32 L2066.36,621.08 L2053.14,616.77 L2039.79,612.39 L2026.29,607.93 L2012.64,603.39 L1998.84,598.77 L1984.88,594.06 L1970.77,589.27 L1956.49,584.39 L1942.04,579.41 L1927.42,574.33 L1912.61,569.15 L1897.63,563.87 L1882.44,558.47 L1867.06,552.96 L1851.48,547.33 L1835.68,541.57 L1819.67,535.68 L1803.43,529.65 L1786.95,523.48 L1770.22,517.16 L1753.25,510.67 L1736.01,504.02 L1718.49,497.20 L1700.69,490.19 L1682.59,482.98 L1664.18,475.56 L1645.45,467.92 L1626.37,460.05 L1606.94,451.93 L1587.14,443.55 L1566.94,434.89 L1546.33,425.92 L1525.29,416.63 L1503.78,406.99 L1481.79,396.97 L1459.29,386.56 L1436.24,375.70 L1412.60,364.36 L1388.35,352.50 L1363.43,340.07 L1337.80,327.01 L1311.40,313.24 L1284.17,298.71 L1256.04,283.30 L1226.93,266.91 L1196.74,249.40 L1165.37,230.62 L1132.68,210.35 L1098.54,188.36 L1062.75,164.30 L1025.10,137.77 L985.31,108.19 L943.03,74.75 L897.84,36.32 M2205.15,641.62 L2192.25,637.64 L2179.22,633.60 L2166.07,629.50 L2152.77,625.32 L2139.35,621.08 L2125.78,616.77 L2112.07,612.39 L2098.21,607.93 L2084.20,603.39 L2070.04,598.77 L2055.71,594.06 L2041.22,589.27 L2026.56,584.39 L2011.73,579.41 L1996.71,574.33 L1981.51,569.15 L1966.12,563.87 L1950.53,558.47 L1934.73,552.96 L1918.73,547.33 L1902.50,541.57 L1886.05,535.68 L1869.37,529.65 L1852.44,523.48 L1835.26,517.16 L1817.81,510.67 L1800.10,504.02 L1782.10,497.20 L1763.81,490.19 L1745.20,482.98 L1726.28,475.56 L1707.02,467.92 L1687.41,460.05 L1667.43,451.93 L1647.07,443.55 L1626.30,434.89 L1605.10,425.92 L1583.45,416.63 L1561.33,406.99 L1538.70,396.97 L1515.55,386.56 L1491.82,375.70 L1467.49,364.36 L1442.52,352.50 L1416.86,340.07 L1390.46,327.01 L1363.26,313.24 L1335.20,298.71 L1306.20,283.30 L1276.19,266.91 L1245.05,249.40 L1212.68,230.62 L1178.95,210.35 L1143.69,188.36 L1106.71,164.30 L1067.78,137.77 L1026.61,108.19 L982.83,74.75 L935.98,36.32 M2279.82,641.62 L2266.59,637.64 L2253.23,633.60 L2239.73,629.50 L2226.10,625.32 L2212.33,621.08 L2198.42,616.77 L2184.35,612.39 L2170.14,607.93 L2155.77,603.39 L2141.24,598.77 L2126.54,594.06 L2111.67,589.27 L2096.63,584.39 L2081.41,579.41 L2066.01,574.33 L2050.41,569.15 L2034.61,563.87 L2018.61,558.47 L2002.40,552.96 L1985.98,547.33 L1969.32,541.57 L1952.44,535.68 L1935.31,529.65 L1917.93,523.48 L1900.29,517.16 L1882.38,510.67 L1864.19,504.02 L1845.71,497.20 L1826.92,490.19 L1807.82,482.98 L1788.38,475.56 L1768.60,467.92 L1748.45,460.05 L1727.92,451.93 L1707.00,443.55 L1685.66,434.89 L1663.87,425.92 L1641.62,416.63 L1618.88,406.99 L1595.62,396.97 L1571.80,386.56 L1547.40,375.70 L1522.38,364.36 L1496.69,352.50 L1470.29,340.07 L1443.12,327.01 L1415.12,313.24 L1386.23,298.71 L1356.37,283.30 L1325.45,266.91 L1293.36,249.40 L1260.00,230.62 L1225.21,210.35 L1188.84,188.36 L1150.67,164.30 L1110.46,137.77 L1067.92,108.19 L1022.63,74.75 L974.12,36.32 M2354.49,641.62 L2340.93,637.64 L2327.23,633.60 L2313.40,629.50 L2299.43,625.32 L2285.32,621.08 L2271.05,616.77 L2256.64,612.39 L2242.06,607.93 L2227.33,603.39 L2212.43,598.77 L2197.37,594.06 L2182.13,589.27 L2166.70,584.39 L2151.10,579.41 L2135.30,574.33 L2119.30,569.15 L2103.11,563.87 L2086.70,558.47 L2070.07,552.96 L2053.22,547.33 L2036.14,541.57 L2018.82,535.68 L2001.25,529.65 L1983.42,523.48 L1965.32,517.16 L1946.95,510.67 L1928.28,504.02 L1909.32,497.20 L1890.04,490.19 L1870.43,482.98 L1850.48,475.56 L1830.17,467.92 L1809.49,460.05 L1788.42,451.93 L1766.93,443.55 L1745.01,434.89 L1722.64,425.92 L1699.79,416.63 L1676.43,406.99 L1652.53,396.97 L1628.06,386.56 L1602.99,375.70 L1577.27,364.36 L1550.86,352.50 L1523.72,340.07 L1495.78,327.01 L1466.98,313.24 L1437.26,298.71 L1406.54,283.30 L1374.71,266.91 L1341.68,249.40 L1307.32,230.62 L1271.48,210.35 L1233.99,188.36 L1194.63,164.30 L1153.15,137.77 L1109.22,108.19 L1062.44,74.75 L1012.26,36.32" stroke="#ff4500" stroke-opacity="0.25" stroke-width="1.667" stroke-dasharray="6.17 2.67"/>
<path d="M113.82,641.62 L110.23,637.50 L106.61,633.32 L102.94,629.06 L100.04,625.68 L97.12,622.26 L94.17,618.78 L91.20,615.27 L88.20,611.70 L85.18,608.08 L82.13,604.41 L79.06,600.69 L75.97,596.91 L72.85,593.08 L69.71,589.19 L66.54,585.24 L63.35,581.23 L60.13,577.15 L56.89,573.01 L53.63,568.80 L50.34,564.53 L47.03,560.17 L43.70,555.75 L40.34,551.25 L36.96,546.66 L33.56,542.00 L30.13,537.24 L26.68,532.40 L23.20,527.47 L19.70,522.44 L16.18,517.30 L12.64,512.07 L9.07,506.72 L5.48,501.27 L1.86,495.69 L-1.78,489.99 L-5.44,484.16 L-9.12,478.20 L-12.83,472.09 L-16.56,465.84 L-20.31,459.43 L-24.08,452.86 L-27.88,446.11 L-31.69,439.18 L-35.53,432.07 L-39.38,424.75 L-43.26,417.21 L-47.15,409.45 L-51.06,401.45 L-54.98,393.19 L-58.92,384.65 L-62.87,375.82 L-66.82,366.68 L-70.79,357.21 L-74.76,347.37 L-78.72,337.14 L-82.68,326.48 L-86.63,315.37 L-90.56,303.76 L-94.46,291.59 L-98.32,278.82 L-102.13,265.39 L-105.88,251.22 L-109.54,236.22 L-113.08,220.29 L-116.49,203.31 L-119.72,185.13 L-122.71,165.57 L-125.40,144.40 L-127.71,121.33 L-129.50,95.99 L-130.61,67.88 L-130.79,36.32 M150.77,641.62 L147.15,637.50 L143.48,633.32 L139.76,629.06 L136.81,625.68 L133.83,622.26 L130.83,618.78 L127.79,615.27 L124.72,611.70 L121.62,608.08 L118.49,604.41 L115.34,600.69 L112.15,596.91 L108.93,593.08 L105.69,589.19 L102.41,585.24 L99.11,581.23 L95.77,577.15 L92.41,573.01 L89.02,568.80 L85.60,564.53 L82.15,560.17 L78.68,555.75 L75.17,551.25 L71.64,546.66 L68.08,542.00 L64.49,537.24 L60.88,532.40 L57.23,527.47 L53.56,522.44 L49.86,517.30 L46.13,512.07 L42.38,506.72 L38.60,501.27 L34.79,495.69 L30.95,489.99 L27.08,484.16 L23.19,478.20 L19.27,472.09 L15.33,465.84 L11.35,459.43 L7.35,452.86 L3.33,446.11 L-0.72,439.18 L-4.80,432.07 L-8.90,424.75 L-13.03,417.21 L-17.18,409.45 L-21.35,401.45 L-25.54,393.19 L-29.76,384.65 L-33.99,375.82 L-38.24,366.68 L-42.50,357.21 L-46.78,347.37 L-51.06,337.14 L-55.34,326.48 L-59.63,315.37 L-63.90,303.76 L-68.16,291.59 L-72.39,278.82 L-76.59,265.39 L-80.73,251.22 L-84.80,236.22 L-88.78,220.29 L-92.64,203.31 L-96.35,185.13 L-99.84,165.57 L-103.07,144.40 L-105.94,121.33 L-108.33,95.99 L-110.09,67.88 L-110.98,36.32 M187.55,641.62 L183.95,637.50 L180.29,633.32 L176.57,629.06 L173.62,625.68 L170.63,622.26 L167.60,618.78 L164.54,615.27 L161.43,611.70 L158.30,608.08 L155.12,604.41 L151.91,600.69 L148.66,596.91 L145.37,593.08 L142.05,589.19 L138.70,585.24 L135.31,581.23 L131.88,577.15 L128.42,573.01 L124.92,568.80 L121.39,564.53 L117.82,560.17 L114.22,555.75 L110.58,551.25 L106.91,546.66 L103.21,542.00 L99.47,537.24 L95.70,532.40 L91.89,527.47 L88.06,522.44 L84.19,517.30 L80.28,512.07 L76.35,506.72 L72.38,501.27 L68.37,495.69 L64.34,489.99 L60.27,484.16 L56.17,478.20 L52.04,472.09 L47.88,465.84 L43.68,459.43 L39.45,452.86 L35.20,446.11 L30.90,439.18 L26.58,432.07 L22.23,424.75 L17.85,417.21 L13.44,409.45 L8.99,401.45 L4.52,393.19 L0.03,384.65 L-4.49,375.82 L-9.04,366.68 L-13.61,357.21 L-18.19,347.37 L-22.80,337.14 L-27.41,326.48 L-32.04,315.37 L-36.67,303.76 L-41.29,291.59 L-45.90,278.82 L-50.49,265.39 L-55.04,251.22 L-59.54,236.22 L-63.96,220.29 L-68.28,203.31 L-72.47,185.13 L-76.48,165.57 L-80.25,144.40 L-83.69,121.33 L-86.71,95.99 L-89.13,67.88 L-90.74,36.32 M224.11,641.62 L220.61,637.50 L217.04,633.32 L213.39,629.06 L210.48,625.68 L207.53,622.26 L204.54,618.78 L201.50,615.27 L198.41,611.70 L195.28,608.08 L192.10,604.41 L188.88,600.69 L185.62,596.91 L182.31,593.08 L178.95,589.19 L175.55,585.24 L172.11,581.23 L168.63,577.15 L165.10,573.01 L161.52,568.80 L157.91,564.53 L154.25,560.17 L150.55,555.75 L146.80,551.25 L143.02,546.66 L139.19,542.00 L135.33,537.24 L131.42,532.40 L127.47,527.47 L123.48,522.44 L119.45,517.30 L115.38,512.07 L111.27,506.72 L107.12,501.27 L102.93,495.69 L98.71,489.99 L94.44,484.16 L90.14,478.20 L85.79,472.09 L81.41,465.84 L76.99,459.43 L72.53,452.86 L68.04,446.11 L63.51,439.18 L58.94,432.07 L54.33,424.75 L49.68,417.21 L45.00,409.45 L40.29,401.45 L35.53,393.19 L30.75,384.65 L25.93,375.82 L21.08,366.68 L16.20,357.21 L11.29,347.37 L6.35,337.14 L1.39,326.48 L-3.59,315.37 L-8.58,303.76 L-13.58,291.59 L-18.58,278.82 L-23.57,265.39 L-28.54,251.22 L-33.48,236.22 L-38.36,220.29 L-43.16,203.31 L-47.85,185.13 L-52.38,165.57 L-56.71,144.40 L-60.75,121.33 L-64.40,95.99 L-67.51,67.88 L-69.86,36.32 M260.43,641.62 L257.11,637.50 L253.70,633.32 L250.21,629.06 L247.41,625.68 L244.57,622.26 L241.67,618.78 L238.72,615.27 L235.71,611.70 L232.65,608.08 L229.54,604.41 L226.37,600.69 L223.15,596.91 L219.87,593.08 L216.54,589.19 L213.16,585.24 L209.72,581.23 L206.23,577.15 L202.68,573.01 L199.08,568.80 L195.43,564.53 L191.72,560.17 L187.96,555.75 L184.15,551.25 L180.29,546.66 L176.37,542.00 L172.40,537.24 L168.39,532.40 L164.32,527.47 L160.20,522.44 L156.03,517.30 L151.82,512.07 L147.55,506.72 L143.24,501.27 L138.88,495.69 L134.47,489.99 L130.01,484.16 L125.51,478.20 L120.96,472.09 L116.36,465.84 L111.72,459.43 L107.03,452.86 L102.30,446.11 L97.52,439.18 L92.70,432.07 L87.83,424.75 L82.91,417.21 L77.96,409.45 L72.96,401.45 L67.91,393.19 L62.83,384.65 L57.70,375.82 L52.53,366.68 L47.32,357.21 L42.08,347.37 L36.79,337.14 L31.48,326.48 L26.13,315.37 L20.76,303.76 L15.37,291.59 L9.96,278.82 L4.55,265.39 L-0.86,251.22 L-6.25,236.22 L-11.61,220.29 L-16.91,203.31 L-22.13,185.13 L-27.22,165.57 L-32.13,144.40 L-36.79,121.33 L-41.11,95.99 L-44.93,67.88 L-48.06,36.32 M296.49,641.62 L293.42,637.50 L290.27,633.32 L287.02,629.06 L284.42,625.68 L281.75,622.26 L279.03,618.78 L276.24,615.27 L273.39,611.70 L270.48,608.08 L267.51,604.41 L264.47,600.69 L261.37,596.91 L258.21,593.08 L254.98,589.19 L251.69,585.24 L248.33,581.23 L244.90,577.15 L241.41,573.01 L237.85,568.80 L234.23,564.53 L230.54,560.17 L226.78,555.75 L222.96,551.25 L219.08,546.66 L215.13,542.00 L211.11,537.24 L207.04,532.40 L202.89,527.47 L198.69,522.44 L194.42,517.30 L190.09,512.07 L185.70,506.72 L181.25,501.27 L176.74,495.69 L172.17,489.99 L167.54,484.16 L162.85,478.20 L158.11,472.09 L153.31,465.84 L148.45,459.43 L143.53,452.86 L138.56,446.11 L133.54,439.18 L128.46,432.07 L123.32,424.75 L118.13,417.21 L112.89,409.45 L107.60,401.45 L102.25,393.19 L96.85,384.65 L91.40,375.82 L85.89,366.68 L80.34,357.21 L74.74,347.37 L69.09,337.14 L63.40,326.48 L57.67,315.37 L51.89,303.76 L46.08,291.59 L40.25,278.82 L34.38,265.39 L28.51,251.22 L22.63,236.22 L16.77,220.29 L10.94,203.31 L5.17,185.13 L-0.51,165.57 L-6.04,144.40 L-11.36,121.33 L-16.38,95.99 L-20.97,67.88 L-24.92,36.32 M332.28,641.62 L329.56,637.50 L326.75,633.32 L323.84,629.06 L321.49,625.68 L319.09,622.26 L316.61,618.78 L314.08,615.27 L311.47,611.70 L308.80,608.08 L306.06,604.41 L303.25,600.69 L300.36,596.91 L297.41,593.08 L294.38,589.19 L291.27,585.24 L288.08,581.23 L284.82,577.15 L281.48,573.01 L278.07,568.80 L274.57,564.53 L270.99,560.17 L267.33,555.75 L263.60,551.25 L259.78,546.66 L255.88,542.00 L251.89,537.24 L247.83,532.40 L243.69,527.47 L239.47,522.44 L235.17,517.30 L230.79,512.07 L226.33,506.72 L221.79,501.27 L217.18,495.69 L212.49,489.99 L207.72,484.16 L202.89,478.20 L197.97,472.09 L192.99,465.84 L187.93,459.43 L182.81,452.86 L177.61,446.11 L172.34,439.18 L167.01,432.07 L161.61,424.75 L156.14,417.21 L150.60,409.45 L145.00,401.45 L139.34,393.19 L133.61,384.65 L127.82,375.82 L121.96,366.68 L116.04,357.21 L110.06,347.37 L104.02,337.14 L97.93,326.48 L91.77,315.37 L85.56,303.76 L79.31,291.59 L73.00,278.82 L66.66,265.39 L60.28,251.22 L53.88,236.22 L47.47,220.29 L41.06,203.31 L34.69,185.13 L28.38,165.57 L22.18,144.40 L16.14,121.33 L10.36,95.99 L4.95,67.88 L0.11,36.32 M367.86,641.62 L365.55,637.50 L363.15,633.32 L360.66,629.06 L358.64,625.68 L356.56,622.26 L354.42,618.78 L352.21,615.27 L349.93,611.70 L347.58,608.08 L345.17,604.41 L342.68,600.69 L340.11,596.91 L337.46,593.08 L334.74,589.19 L331.93,585.24 L329.04,581.23 L326.06,577.15 L322.99,573.01 L319.84,568.80 L316.59,564.53 L313.25,560.17 L309.82,555.75 L306.29,551.25 L302.66,546.66 L298.94,542.00 L295.11,537.24 L291.19,532.40 L287.17,527.47 L283.04,522.44 L278.82,517.30 L274.49,512.07 L270.06,506.72 L265.54,501.27 L260.91,495.69 L256.18,489.99 L251.36,484.16 L246.44,478.20 L241.42,472.09 L236.31,465.84 L231.10,459.43 L225.80,452.86 L220.41,446.11 L214.93,439.18 L209.36,432.07 L203.71,424.75 L197.97,417.21 L192.14,409.45 L186.23,401.45 L180.24,393.19 L174.17,384.65 L168.01,375.82 L161.78,366.68 L155.47,357.21 L149.08,347.37 L142.62,337.14 L136.08,326.48 L129.47,315.37 L122.78,303.76 L116.03,291.59 L109.21,278.82 L102.33,265.39 L95.40,251.22 L88.42,236.22 L81.41,220.29 L74.37,203.31 L67.33,185.13 L60.32,165.57 L53.38,144.40 L46.55,121.33 L39.93,95.99 L33.61,67.88 L27.78,36.32 M403.28,641.62 L401.43,637.50 L399.49,633.32 L397.47,629.06 L395.83,625.68 L394.13,622.26 L392.38,618.78 L390.56,615.27 L388.68,611.70 L386.73,608.08 L384.72,604.41 L382.63,600.69 L380.48,596.91 L378.24,593.08 L375.93,589.19 L373.53,585.24 L371.05,581.23 L368.48,577.15 L365.82,573.01 L363.06,568.80 L360.21,564.53 L357.26,560.17 L354.20,555.75 L351.04,551.25 L347.77,546.66 L344.39,542.00 L340.89,537.24 L337.28,532.40 L333.55,527.47 L329.69,522.44 L325.72,517.30 L321.62,512.07 L317.39,506.72 L313.03,501.27 L308.55,495.69 L303.94,489.99 L299.20,484.16 L294.33,478.20 L289.33,472.09 L284.21,465.84 L278.96,459.43 L273.59,452.86 L268.09,446.11 L262.47,439.18 L256.73,432.07 L250.87,424.75 L244.90,417.21 L238.81,409.45 L232.62,401.45 L226.31,393.19 L219.89,384.65 L213.37,375.82 L206.75,366.68 L200.02,357.21 L193.19,347.37 L186.27,337.14 L179.24,326.48 L172.13,315.37 L164.91,303.76 L157.61,291.59 L150.22,278.82 L142.74,265.39 L135.18,251.22 L127.55,236.22 L119.85,220.29 L112.10,203.31 L104.31,185.13 L96.50,165.57 L88.72,144.40 L81.00,121.33 L73.42,95.99 L66.07,67.88 L59.13,36.32 M438.65,641.62 L437.26,637.50 L435.81,633.32 L434.29,629.06 L433.05,625.68 L431.76,622.26 L430.42,618.78 L429.04,615.27 L427.59,611.70 L426.09,608.08 L424.54,604.41 L422.92,600.69 L421.23,596.91 L419.48,593.08 L417.66,589.19 L415.76,585.24 L413.79,581.23 L411.73,577.15 L409.59,573.01 L407.36,568.80 L405.04,564.53 L402.61,560.17 L400.09,555.75 L397.47,551.25 L394.73,546.66 L391.87,542.00 L388.90,537.24 L385.81,532.40 L382.58,527.47 L379.22,522.44 L375.72,517.30 L372.09,512.07 L368.30,506.72 L364.36,501.27 L360.27,495.69 L356.02,489.99 L351.62,484.16 L347.04,478.20 L342.30,472.09 L337.40,465.84 L332.32,459.43 L327.08,452.86 L321.67,446.11 L316.09,439.18 L310.34,432.07 L304.43,424.75 L298.35,417.21 L292.11,409.45 L285.72,401.45 L279.17,393.19 L272.47,384.65 L265.62,375.82 L258.62,366.68 L251.48,357.21 L244.21,347.37 L236.80,337.14 L229.25,326.48 L221.58,315.37 L213.78,303.76 L205.86,291.59 L197.81,278.82 L189.65,265.39 L181.37,251.22 L172.99,236.22 L164.50,220.29 L155.92,203.31 L147.26,185.13 L138.53,165.57 L129.77,144.40 L121.02,121.33 L112.33,95.99 L103.79,67.88 L95.54,36.32 M474.03,641.62 L473.11,637.50 L472.13,633.32 L471.11,629.06 L470.27,625.68 L469.39,622.26 L468.47,618.78 L467.52,615.27 L466.53,611.70 L465.49,608.08 L464.40,604.41 L463.27,600.69 L462.09,596.91 L460.85,593.08 L459.55,589.19 L458.20,585.24 L456.78,581.23 L455.30,577.15 L453.74,573.01 L452.12,568.80 L450.41,564.53 L448.62,560.17 L446.74,555.75 L444.77,551.25 L442.71,546.66 L440.54,542.00 L438.26,537.24 L435.86,532.40 L433.35,527.47 L430.71,522.44 L427.93,517.30 L425.01,512.07 L421.94,506.72 L418.72,501.27 L415.33,495.69 L411.78,489.99 L408.04,484.16 L404.12,478.20 L400.00,472.09 L395.68,465.84 L391.16,459.43 L386.42,452.86 L381.47,446.11 L376.29,439.18 L370.88,432.07 L365.25,424.75 L359.39,417.21 L353.29,409.45 L346.96,401.45 L340.41,393.19 L333.62,384.65 L326.62,375.82 L319.39,366.68 L311.96,357.21 L304.31,347.37 L296.46,337.14 L288.42,326.48 L280.19,315.37 L271.77,303.76 L263.18,291.59 L254.41,278.82 L245.47,265.39 L236.37,251.22 L227.11,236.22 L217.69,220.29 L208.13,203.31 L198.44,185.13 L188.62,165.57 L178.70,144.40 L168.71,121.33 L158.70,95.99 L148.73,67.88 L138.94,36.32 M509.50,641.62 L509.01,637.50 L508.48,633.32 L507.92,629.06 L507.46,625.68 L506.97,622.26 L506.46,618.78 L505.92,615.27 L505.35,611.70 L504.75,608.08 L504.12,604.41 L503.45,600.69 L502.76,596.91 L502.02,593.08 L501.24,589.19 L500.42,585.24 L499.56,581.23 L498.65,577.15 L497.69,573.01 L496.67,568.80 L495.60,564.53 L494.47,560.17 L493.27,555.75 L492.00,551.25 L490.66,546.66 L489.24,542.00 L487.73,537.24 L486.14,532.40 L484.45,527.47 L482.66,522.44 L480.76,517.30 L478.74,512.07 L476.59,506.72 L474.31,501.27 L471.89,495.69 L469.31,489.99 L466.57,484.16 L463.66,478.20 L460.56,472.09 L457.26,465.84 L453.75,459.43 L450.01,452.86 L446.04,446.11 L441.81,439.18 L437.32,432.07 L432.55,424.75 L427.50,417.21 L422.14,409.45 L416.47,401.45 L410.47,393.19 L404.16,384.65 L397.50,375.82 L390.52,366.68 L383.20,357.21 L375.55,347.37 L367.57,337.14 L359.28,326.48 L350.67,315.37 L341.76,303.76 L332.56,291.59 L323.08,278.82 L313.34,265.39 L303.34,251.22 L293.09,236.22 L282.60,220.29 L271.89,203.31 L260.96,185.13 L249.83,165.57 L238.50,144.40 L227.01,121.33 L215.38,95.99 L203.68,67.88 L191.99,36.32 M545.12,641.62 L545.01,637.50 L544.88,633.32 L544.74,629.06 L544.61,625.68 L544.47,622.26 L544.32,618.78 L544.15,615.27 L543.96,611.70 L543.76,608.08 L543.54,604.41 L543.30,600.69 L543.04,596.91 L542.76,593.08 L542.45,589.19 L542.12,585.24 L541.76,581.23 L541.38,577.15 L540.96,573.01 L540.51,568.80 L540.02,564.53 L539.50,560.17 L538.94,555.75 L538.33,551.25 L537.68,546.66 L536.98,542.00 L536.22,537.24 L535.40,532.40 L534.53,527.47 L533.58,522.44 L532.56,517.30 L531.46,512.07 L530.28,506.72 L529.00,501.27 L527.63,495.69 L526.14,489.99 L524.54,484.16 L522.80,478.20 L520.93,472.09 L518.90,465.84 L516.71,459.43 L514.34,452.86 L511.77,446.11 L508.98,439.18 L505.96,432.07 L502.68,424.75 L499.13,417.21 L495.27,409.45 L491.09,401.45 L486.56,393.19 L481.65,384.65 L476.34,375.82 L470.59,366.68 L464.40,357.21 L457.72,347.37 L450.55,337.14 L442.87,326.48 L434.68,315.37 L425.97,303.76 L416.74,291.59 L407.00,278.82 L396.78,265.39 L386.09,251.22 L374.95,236.22 L363.39,220.29 L351.43,203.31 L339.09,185.13 L326.40,165.57 L313.37,144.40 L300.03,121.33 L286.40,95.99 L272.53,67.88 L258.48,36.32 M580.89,641.62 L581.12,637.50 L581.34,633.32 L581.56,629.06 L581.72,625.68 L581.88,622.26 L582.03,618.78 L582.18,615.27 L582.33,611.70 L582.46,608.08 L582.59,604.41 L582.71,600.69 L582.83,596.91 L582.93,593.08 L583.03,589.19 L583.12,585.24 L583.19,581.23 L583.25,577.15 L583.30,573.01 L583.33,568.80 L583.35,564.53 L583.35,560.17 L583.33,555.75 L583.29,551.25 L583.23,546.66 L583.15,542.00 L583.03,537.24 L582.89,532.40 L582.72,527.47 L582.51,522.44 L582.27,517.30 L581.99,512.07 L581.66,506.72 L581.28,501.27 L580.84,495.69 L580.35,489.99 L579.79,484.16 L579.16,478.20 L578.45,472.09 L577.65,465.84 L576.75,459.43 L575.75,452.86 L574.62,446.11 L573.36,439.18 L571.95,432.07 L570.38,424.75 L568.62,417.21 L566.66,409.45 L564.46,401.45 L562.00,393.19 L559.25,384.65 L556.17,375.82 L552.73,366.68 L548.87,357.21 L544.56,347.37 L539.72,337.14 L534.32,326.48 L528.28,315.37 L521.56,303.76 L514.08,291.59 L505.80,278.82 L496.68,265.39 L486.68,251.22 L475.80,236.22 L464.05,220.29 L451.45,203.31 L438.05,185.13 L423.91,165.57 L409.07,144.40 L393.59,121.33 L377.54,95.99 L360.96,67.88 L343.91,36.32 M616.85,641.62 L617.35,637.50 L617.86,633.32 L618.37,629.06 L618.78,625.68 L619.18,622.26 L619.59,618.78 L620.01,615.27 L620.42,611.70 L620.84,608.08 L621.25,604.41 L621.67,600.69 L622.09,596.91 L622.52,593.08 L622.94,589.19 L623.37,585.24 L623.79,581.23 L624.22,577.15 L624.64,573.01 L625.07,568.80 L625.49,564.53 L625.91,560.17 L626.33,555.75 L626.75,551.25 L627.16,546.66 L627.57,542.00 L627.98,537.24 L628.37,532.40 L628.77,527.47 L629.15,522.44 L629.52,517.30 L629.89,512.07 L630.24,506.72 L630.57,501.27 L630.89,495.69 L631.19,489.99 L631.46,484.16 L631.72,478.20 L631.94,472.09 L632.13,465.84 L632.28,459.43 L632.40,452.86 L632.46,446.11 L632.47,439.18 L632.41,432.07 L632.29,424.75 L632.08,417.21 L631.78,409.45 L631.37,401.45 L630.84,393.19 L630.16,384.65 L629.32,375.82 L628.28,366.68 L627.02,357.21 L625.50,347.37 L623.67,337.14 L621.49,326.48 L618.88,315.37 L615.78,303.76 L612.09,291.59 L607.71,278.82 L602.51,265.39 L596.36,251.22 L589.10,236.22 L580.57,220.29 L570.59,203.31 L559.05,185.13 L545.84,165.57 L530.94,144.40 L514.40,121.33 L496.34,95.99 L476.93,67.88 L456.32,36.32 M652.96,641.62 L653.69,637.50 L654.44,633.32 L655.19,629.06 L655.79,625.68 L656.39,622.26 L657.01,618.78 L657.63,615.27 L658.26,611.70 L658.90,608.08 L659.55,604.41 L660.20,600.69 L660.87,596.91 L661.54,593.08 L662.22,589.19 L662.91,585.24 L663.61,581.23 L664.32,577.15 L665.04,573.01 L665.77,568.80 L666.51,564.53 L667.26,560.17 L668.01,555.75 L668.78,551.25 L669.56,546.66 L670.35,542.00 L671.14,537.24 L671.95,532.40 L672.77,527.47 L673.60,522.44 L674.44,517.30 L675.29,512.07 L676.15,506.72 L677.02,501.27 L677.89,495.69 L678.78,489.99 L679.67,484.16 L680.58,478.20 L681.49,472.09 L682.40,465.84 L683.32,459.43 L684.25,452.86 L685.18,446.11 L686.10,439.18 L687.03,432.07 L687.95,424.75 L688.87,417.21 L689.77,409.45 L690.66,401.45 L691.52,393.19 L692.36,384.65 L693.16,375.82 L693.92,366.68 L694.62,357.21 L695.24,347.37 L695.78,337.14 L696.20,326.48 L696.48,315.37 L696.58,303.76 L696.47,291.59 L696.08,278.82 L695.34,265.39 L694.15,251.22 L692.41,236.22 L689.94,220.29 L686.54,203.31 L681.94,185.13 L675.78,165.57 L667.61,144.40 L656.90,121.33 L643.08,95.99 L625.69,67.88 L604.52,36.32 M689.23,641.62 L690.14,637.50 L691.06,633.32 L692.01,629.06 L692.76,625.68 L693.52,622.26 L694.29,618.78 L695.08,615.27 L695.87,611.70 L696.68,608.08 L697.51,604.41 L698.34,600.69 L699.19,596.91 L700.06,593.08 L700.94,589.19 L701.83,585.24 L702.74,581.23 L703.67,577.15 L704.61,573.01 L705.57,568.80 L706.54,564.53 L707.53,560.17 L708.54,555.75 L709.57,551.25 L710.62,546.66 L711.69,542.00 L712.78,537.24 L713.89,532.40 L715.02,527.47 L716.18,522.44 L717.35,517.30 L718.56,512.07 L719.78,506.72 L721.03,501.27 L722.31,495.69 L723.62,489.99 L724.95,484.16 L726.31,478.20 L727.70,472.09 L729.12,465.84 L730.58,459.43 L732.07,452.86 L733.59,446.11 L735.15,439.18 L736.74,432.07 L738.37,424.75 L740.04,417.21 L741.75,409.45 L743.50,401.45 L745.29,393.19 L747.12,384.65 L748.99,375.82 L750.91,366.68 L752.86,357.21 L754.86,347.37 L756.90,337.14 L758.98,326.48 L761.09,315.37 L763.23,303.76 L765.39,291.59 L767.56,278.82 L769.72,265.39 L771.85,251.22 L773.93,236.22 L775.90,220.29 L777.70,203.31 L779.23,185.13 L780.37,165.57 L780.91,144.40 L780.52,121.33 L778.73,95.99 L774.75,67.88 L767.32,36.32 M725.63,641.62 L726.68,637.50 L727.74,633.32 L728.82,629.06 L729.69,625.68 L730.57,622.26 L731.46,618.78 L732.37,615.27 L733.29,611.70 L734.23,608.08 L735.18,604.41 L736.16,600.69 L737.15,596.91 L738.15,593.08 L739.18,589.19 L740.22,585.24 L741.29,581.23 L742.37,577.15 L743.47,573.01 L744.60,568.80 L745.75,564.53 L746.92,560.17 L748.11,555.75 L749.33,551.25 L750.58,546.66 L751.85,542.00 L753.15,537.24 L754.47,532.40 L755.83,527.47 L757.21,522.44 L758.63,517.30 L760.08,512.07 L761.57,506.72 L763.09,501.27 L764.65,495.69 L766.24,489.99 L767.88,484.16 L769.56,478.20 L771.28,472.09 L773.05,465.84 L774.87,459.43 L776.74,452.86 L778.66,446.11 L780.64,439.18 L782.67,432.07 L784.77,424.75 L786.93,417.21 L789.17,409.45 L791.47,401.45 L793.85,393.19 L796.31,384.65 L798.86,375.82 L801.50,366.68 L804.24,357.21 L807.08,347.37 L810.03,337.14 L813.10,326.48 L816.30,315.37 L819.63,303.76 L823.10,291.59 L826.73,278.82 L830.52,265.39 L834.49,251.22 L838.65,236.22 L843.02,220.29 L847.59,203.31 L852.39,185.13 L857.42,165.57 L862.68,144.40 L868.14,121.33 L873.76,95.99 L879.42,67.88 L884.89,36.32 M762.15,641.62 L763.29,637.50 L764.45,633.32 L765.64,629.06 L766.59,625.68 L767.55,622.26 L768.53,618.78 L769.53,615.27 L770.54,611.70 L771.57,608.08 L772.62,604.41 L773.69,600.69 L774.78,596.91 L775.89,593.08 L777.02,589.19 L778.17,585.24 L779.35,581.23 L780.54,577.15 L781.77,573.01 L783.01,568.80 L784.28,564.53 L785.58,560.17 L786.90,555.75 L788.25,551.25 L789.64,546.66 L791.05,542.00 L792.49,537.24 L793.97,532.40 L795.48,527.47 L797.03,522.44 L798.61,517.30 L800.23,512.07 L801.89,506.72 L803.60,501.27 L805.35,495.69 L807.14,489.99 L808.98,484.16 L810.88,478.20 L812.82,472.09 L814.82,465.84 L816.88,459.43 L819.00,452.86 L821.19,446.11 L823.44,439.18 L825.77,432.07 L828.17,424.75 L830.65,417.21 L833.22,409.45 L835.88,401.45 L838.64,393.19 L841.50,384.65 L844.47,375.82 L847.56,366.68 L850.78,357.21 L854.13,347.37 L857.64,337.14 L861.30,326.48 L865.14,315.37 L869.16,303.76 L873.40,291.59 L877.86,278.82 L882.57,265.39 L887.55,251.22 L892.84,236.22 L898.48,220.29 L904.50,203.31 L910.96,185.13 L917.91,165.57 L925.43,144.40 L933.61,121.33 L942.56,95.99 L952.41,67.88 L963.34,36.32 M798.75,641.62 L799.96,637.50 L801.20,633.32 L802.46,629.06 L803.46,625.68 L804.48,622.26 L805.52,618.78 L806.58,615.27 L807.66,611.70 L808.75,608.08 L809.87,604.41 L811.00,600.69 L812.16,596.91 L813.34,593.08 L814.54,589.19 L815.77,585.24 L817.02,581.23 L818.29,577.15 L819.59,573.01 L820.91,568.80 L822.27,564.53 L823.65,560.17 L825.06,555.75 L826.50,551.25 L827.98,546.66 L829.48,542.00 L831.02,537.24 L832.60,532.40 L834.21,527.47 L835.87,522.44 L837.56,517.30 L839.30,512.07 L841.08,506.72 L842.90,501.27 L844.77,495.69 L846.70,489.99 L848.67,484.16 L850.71,478.20 L852.80,472.09 L854.95,465.84 L857.16,459.43 L859.45,452.86 L861.80,446.11 L864.23,439.18 L866.74,432.07 L869.34,424.75 L872.02,417.21 L874.80,409.45 L877.68,401.45 L880.68,393.19 L883.78,384.65 L887.02,375.82 L890.38,366.68 L893.89,357.21 L897.56,347.37 L901.39,337.14 L905.41,326.48 L909.63,315.37 L914.06,303.76 L918.74,291.59 L923.68,278.82 L928.91,265.39 L934.46,251.22 L940.39,236.22 L946.72,220.29 L953.52,203.31 L960.85,185.13 L968.79,165.57 L977.46,144.40 L986.98,121.33 L997.51,95.99 L1009.28,67.88 L1022.59,36.32 M835.44,641.62 L836.69,637.50 L837.97,633.32 L839.27,629.06 L840.31,625.68 L841.37,622.26 L842.45,618.78 L843.55,615.27 L844.66,611.70 L845.80,608.08 L846.95,604.41 L848.13,600.69 L849.33,596.91 L850.55,593.08 L851.80,589.19 L853.07,585.24 L854.36,581.23 L855.69,577.15 L857.03,573.01 L858.41,568.80 L859.81,564.53 L861.25,560.17 L862.71,555.75 L864.21,551.25 L865.74,546.66 L867.31,542.00 L868.91,537.24 L870.55,532.40 L872.23,527.47 L873.94,522.44 L875.71,517.30 L877.51,512.07 L879.36,506.72 L881.26,501.27 L883.21,495.69 L885.21,489.99 L887.27,484.16 L889.39,478.20 L891.57,472.09 L893.81,465.84 L896.12,459.43 L898.50,452.86 L900.96,446.11 L903.50,439.18 L906.12,432.07 L908.83,424.75 L911.63,417.21 L914.54,409.45 L917.56,401.45 L920.69,393.19 L923.94,384.65 L927.33,375.82 L930.86,366.68 L934.54,357.21 L938.38,347.37 L942.41,337.14 L946.63,326.48 L951.07,315.37 L955.74,303.76 L960.67,291.59 L965.88,278.82 L971.40,265.39 L977.27,251.22 L983.54,236.22 L990.26,220.29 L997.47,203.31 L1005.28,185.13 L1013.75,165.57 L1023.01,144.40 L1033.21,121.33 L1044.53,95.99 L1057.24,67.88 L1071.68,36.32 M872.19,641.62 L873.46,637.50 L874.76,633.32 L876.09,629.06 L877.15,625.68 L878.23,622.26 L879.32,618.78 L880.44,615.27 L881.57,611.70 L882.73,608.08 L883.91,604.41 L885.11,600.69 L886.33,596.91 L887.57,593.08 L888.84,589.19 L890.14,585.24 L891.46,581.23 L892.80,577.15 L894.18,573.01 L895.58,568.80 L897.01,564.53 L898.47,560.17 L899.96,555.75 L901.49,551.25 L903.05,546.66 L904.65,542.00 L906.28,537.24 L907.95,532.40 L909.66,527.47 L911.42,522.44 L913.21,517.30 L915.06,512.07 L916.94,506.72 L918.88,501.27 L920.87,495.69 L922.92,489.99 L925.02,484.16 L927.18,478.20 L929.41,472.09 L931.70,465.84 L934.06,459.43 L936.49,452.86 L939.00,446.11 L941.60,439.18 L944.28,432.07 L947.05,424.75 L949.92,417.21 L952.89,409.45 L955.98,401.45 L959.18,393.19 L962.51,384.65 L965.98,375.82 L969.59,366.68 L973.36,357.21 L977.31,347.37 L981.44,337.14 L985.77,326.48 L990.32,315.37 L995.11,303.76 L1000.17,291.59 L1005.52,278.82 L1011.19,265.39 L1017.23,251.22 L1023.68,236.22 L1030.59,220.29 L1038.02,203.31 L1046.06,185.13 L1054.80,165.57 L1064.36,144.40 L1074.89,121.33 L1086.61,95.99 L1099.77,67.88 L1114.76,36.32 M908.99,641.62 L910.27,637.50 L911.57,633.32 L912.91,629.06 L913.97,625.68 L915.05,622.26 L916.15,618.78 L917.27,615.27 L918.41,611.70 L919.57,608.08 L920.76,604.41 L921.96,600.69 L923.19,596.91 L924.44,593.08 L925.71,589.19 L927.01,585.24 L928.34,581.23 L929.69,577.15 L931.07,573.01 L932.48,568.80 L933.92,564.53 L935.39,560.17 L936.89,555.75 L938.43,551.25 L940.00,546.66 L941.60,542.00 L943.25,537.24 L944.93,532.40 L946.65,527.47 L948.41,522.44 L950.22,517.30 L952.07,512.07 L953.97,506.72 L955.92,501.27 L957.93,495.69 L959.99,489.99 L962.10,484.16 L964.28,478.20 L966.52,472.09 L968.82,465.84 L971.20,459.43 L973.65,452.86 L976.18,446.11 L978.80,439.18 L981.50,432.07 L984.29,424.75 L987.18,417.21 L990.18,409.45 L993.29,401.45 L996.52,393.19 L999.88,384.65 L1003.38,375.82 L1007.02,366.68 L1010.83,357.21 L1014.81,347.37 L1018.98,337.14 L1023.35,326.48 L1027.94,315.37 L1032.78,303.76 L1037.89,291.59 L1043.29,278.82 L1049.03,265.39 L1055.13,251.22 L1061.65,236.22 L1068.64,220.29 L1076.16,203.31 L1084.30,185.13 L1093.14,165.57 L1102.83,144.40 L1113.50,121.33 L1125.38,95.99 L1138.73,67.88 L1153.94,36.32 M945.84,641.62 L947.10,637.50 L948.40,633.32 L949.72,629.06 L950.78,625.68 L951.85,622.26 L952.95,618.78 L954.06,615.27 L955.19,611.70 L956.35,608.08 L957.52,604.41 L958.72,600.69 L959.94,596.91 L961.18,593.08 L962.45,589.19 L963.74,585.24 L965.06,581.23 L966.40,577.15 L967.77,573.01 L969.18,568.80 L970.61,564.53 L972.07,560.17 L973.56,555.75 L975.09,551.25 L976.65,546.66 L978.25,542.00 L979.88,537.24 L981.55,532.40 L983.27,527.47 L985.02,522.44 L986.82,517.30 L988.67,512.07 L990.56,506.72 L992.50,501.27 L994.50,495.69 L996.55,489.99 L998.66,484.16 L1000.82,478.20 L1003.06,472.09 L1005.35,465.84 L1007.72,459.43 L1010.17,452.86 L1012.69,446.11 L1015.29,439.18 L1017.98,432.07 L1020.77,424.75 L1023.66,417.21 L1026.65,409.45 L1029.75,401.45 L1032.97,393.19 L1036.32,384.65 L1039.81,375.82 L1043.45,366.68 L1047.25,357.21 L1051.22,347.37 L1055.39,337.14 L1059.75,326.48 L1064.34,315.37 L1069.18,303.76 L1074.28,291.59 L1079.68,278.82 L1085.42,265.39 L1091.52,251.22 L1098.04,236.22 L1105.03,220.29 L1112.55,203.31 L1120.69,185.13 L1129.55,165.57 L1139.24,144.40 L1149.94,121.33 L1161.83,95.99 L1175.22,67.88 L1190.46,36.32 M982.72,641.62 L983.96,637.50 L985.24,633.32 L986.54,629.06 L987.58,625.68 L988.64,622.26 L989.71,618.78 L990.81,615.27 L991.92,611.70 L993.06,608.08 L994.21,604.41 L995.39,600.69 L996.59,596.91 L997.82,593.08 L999.07,589.19 L1000.34,585.24 L1001.64,581.23 L1002.96,577.15 L1004.32,573.01 L1005.70,568.80 L1007.11,564.53 L1008.55,560.17 L1010.02,555.75 L1011.53,551.25 L1013.07,546.66 L1014.64,542.00 L1016.25,537.24 L1017.90,532.40 L1019.59,527.47 L1021.33,522.44 L1023.10,517.30 L1024.92,512.07 L1026.79,506.72 L1028.71,501.27 L1030.68,495.69 L1032.71,489.99 L1034.79,484.16 L1036.93,478.20 L1039.14,472.09 L1041.41,465.84 L1043.75,459.43 L1046.16,452.86 L1048.66,446.11 L1051.23,439.18 L1053.90,432.07 L1056.65,424.75 L1059.51,417.21 L1062.46,409.45 L1065.53,401.45 L1068.72,393.19 L1072.04,384.65 L1075.50,375.82 L1079.10,366.68 L1082.86,357.21 L1086.80,347.37 L1090.92,337.14 L1095.25,326.48 L1099.80,315.37 L1104.59,303.76 L1109.65,291.59 L1115.01,278.82 L1120.70,265.39 L1126.75,251.22 L1133.22,236.22 L1140.16,220.29 L1147.63,203.31 L1155.71,185.13 L1164.51,165.57 L1174.14,144.40 L1184.77,121.33 L1196.60,95.99 L1209.90,67.88 L1225.07,36.32 M1019.63,641.62 L1020.84,637.50 L1022.09,633.32 L1023.36,629.06 L1024.37,625.68 L1025.40,622.26 L1026.45,618.78 L1027.52,615.27 L1028.61,611.70 L1029.72,608.08 L1030.85,604.41 L1032.00,600.69 L1033.17,596.91 L1034.37,593.08 L1035.59,589.19 L1036.84,585.24 L1038.11,581.23 L1039.40,577.15 L1040.72,573.01 L1042.08,568.80 L1043.46,564.53 L1044.87,560.17 L1046.31,555.75 L1047.78,551.25 L1049.29,546.66 L1050.83,542.00 L1052.41,537.24 L1054.03,532.40 L1055.68,527.47 L1057.38,522.44 L1059.12,517.30 L1060.91,512.07 L1062.74,506.72 L1064.62,501.27 L1066.55,495.69 L1068.54,489.99 L1070.58,484.16 L1072.69,478.20 L1074.85,472.09 L1077.08,465.84 L1079.38,459.43 L1081.75,452.86 L1084.20,446.11 L1086.73,439.18 L1089.35,432.07 L1092.05,424.75 L1094.86,417.21 L1097.77,409.45 L1100.79,401.45 L1103.92,393.19 L1107.19,384.65 L1110.59,375.82 L1114.14,366.68 L1117.84,357.21 L1121.71,347.37 L1125.77,337.14 L1130.04,326.48 L1134.52,315.37 L1139.24,303.76 L1144.23,291.59 L1149.51,278.82 L1155.12,265.39 L1161.09,251.22 L1167.48,236.22 L1174.32,220.29 L1181.70,203.31 L1189.68,185.13 L1198.37,165.57 L1207.89,144.40 L1218.39,121.33 L1230.09,95.99 L1243.25,67.88 L1258.26,36.32 M1056.56,641.62 L1057.74,637.50 L1058.94,633.32 L1060.17,629.06 L1061.16,625.68 L1062.16,622.26 L1063.17,618.78 L1064.21,615.27 L1065.27,611.70 L1066.34,608.08 L1067.44,604.41 L1068.56,600.69 L1069.69,596.91 L1070.86,593.08 L1072.04,589.19 L1073.25,585.24 L1074.48,581.23 L1075.74,577.15 L1077.03,573.01 L1078.34,568.80 L1079.68,564.53 L1081.05,560.17 L1082.45,555.75 L1083.89,551.25 L1085.35,546.66 L1086.86,542.00 L1088.39,537.24 L1089.97,532.40 L1091.58,527.47 L1093.23,522.44 L1094.93,517.30 L1096.67,512.07 L1098.45,506.72 L1100.29,501.27 L1102.17,495.69 L1104.11,489.99 L1106.10,484.16 L1108.15,478.20 L1110.26,472.09 L1112.44,465.84 L1114.68,459.43 L1117.00,452.86 L1119.39,446.11 L1121.86,439.18 L1124.42,432.07 L1127.07,424.75 L1129.81,417.21 L1132.66,409.45 L1135.61,401.45 L1138.68,393.19 L1141.87,384.65 L1145.20,375.82 L1148.68,366.68 L1152.30,357.21 L1156.10,347.37 L1160.08,337.14 L1164.26,326.48 L1168.65,315.37 L1173.28,303.76 L1178.18,291.59 L1183.36,278.82 L1188.87,265.39 L1194.73,251.22 L1201.00,236.22 L1207.73,220.29 L1214.98,203.31 L1222.83,185.13 L1231.38,165.57 L1240.75,144.40 L1251.09,121.33 L1262.60,95.99 L1275.57,67.88 L1290.37,36.32 M1093.52,641.62 L1094.65,637.50 L1095.81,633.32 L1096.99,629.06 L1097.94,625.68 L1098.90,622.26 L1099.88,618.78 L1100.88,615.27 L1101.89,611.70 L1102.93,608.08 L1103.99,604.41 L1105.06,600.69 L1106.16,596.91 L1107.28,593.08 L1108.42,589.19 L1109.59,585.24 L1110.78,581.23 L1112.00,577.15 L1113.24,573.01 L1114.51,568.80 L1115.80,564.53 L1117.13,560.17 L1118.48,555.75 L1119.87,551.25 L1121.29,546.66 L1122.74,542.00 L1124.23,537.24 L1125.75,532.40 L1127.31,527.47 L1128.91,522.44 L1130.56,517.30 L1132.24,512.07 L1133.97,506.72 L1135.75,501.27 L1137.58,495.69 L1139.46,489.99 L1141.39,484.16 L1143.38,478.20 L1145.43,472.09 L1147.55,465.84 L1149.73,459.43 L1151.98,452.86 L1154.30,446.11 L1156.71,439.18 L1159.19,432.07 L1161.77,424.75 L1164.44,417.21 L1167.21,409.45 L1170.08,401.45 L1173.07,393.19 L1176.19,384.65 L1179.43,375.82 L1182.81,366.68 L1186.35,357.21 L1190.06,347.37 L1193.94,337.14 L1198.02,326.48 L1202.31,315.37 L1206.83,303.76 L1211.62,291.59 L1216.69,278.82 L1222.07,265.39 L1227.81,251.22 L1233.95,236.22 L1240.53,220.29 L1247.63,203.31 L1255.33,185.13 L1263.71,165.57 L1272.89,144.40 L1283.04,121.33 L1294.35,95.99 L1307.09,67.88 L1321.63,36.32" stroke="#2ca02c" stroke-opacity="0.25" stroke-width="1.667" stroke-dasharray="6.17 2.67"/>
<path d="M82.20,641.62 L85.61,636.93 L89.09,632.15 L92.64,627.28 L96.26,622.32 L99.96,617.25 L103.73,612.09 L107.58,606.82 L111.51,601.44 L115.53,595.95 L119.64,590.34 L123.85,584.60 L128.15,578.73 L132.56,572.72 L137.08,566.58 L141.71,560.28 L146.47,553.82 L151.35,547.19 L156.36,540.39 L161.51,533.41 L166.81,526.23 L172.27,518.85 L177.89,511.25 L183.70,503.41 L189.69,495.33 L195.88,486.99 L202.28,478.37 L208.91,469.45 L215.79,460.21 L222.93,450.63 M132.41,641.62 L135.74,636.93 L139.13,632.15 L142.59,627.28 L146.12,622.32 L149.72,617.25 L153.40,612.09 L157.15,606.82 L160.98,601.44 L164.91,595.95 L168.91,590.34 L173.02,584.60 L177.22,578.73 L181.52,572.72 L185.92,566.58 L190.44,560.28 L195.08,553.82 L199.84,547.19 L204.74,540.39 L209.76,533.41 L214.94,526.23 L220.27,518.85 L225.76,511.25 L231.43,503.41 L237.28,495.33 L243.32,486.99 L249.58,478.37 L256.06,469.45 L262.78,460.21 L269.77,450.63 M186.11,641.62 L189.35,636.93 L192.64,632.15 L196.00,627.28 L199.43,622.32 L202.92,617.25 L206.49,612.09 L210.14,606.82 L213.87,601.44 L217.68,595.95 L221.57,590.34 L225.56,584.60 L229.64,578.73 L233.83,572.72 L238.11,566.58 L242.51,560.28 L247.02,553.82 L251.65,547.19 L256.41,540.39 L261.30,533.41 L266.34,526.23 L271.53,518.85 L276.87,511.25 L282.39,503.41 L288.08,495.33 L293.97,486.99 L300.07,478.37 L306.38,469.45 L312.93,460.21 L319.73,450.63 M219.29,641.62 L222.46,636.93 L225.69,632.15 L228.99,627.28 L232.35,622.32 L235.78,617.25 L239.29,612.09 L242.87,606.82 L246.52,601.44 L250.26,595.95 L254.09,590.34 L258.00,584.60 L262.01,578.73 L266.12,572.72 L270.33,566.58 L274.64,560.28 L279.07,553.82 L283.62,547.19 L288.30,540.39 L293.10,533.41 L298.05,526.23 L303.15,518.85 L308.40,511.25 L313.82,503.41 L319.42,495.33 L325.21,486.99 L331.20,478.37 L337.41,469.45 L343.85,460.21 L350.54,450.63 M263.08,641.62 L266.17,636.93 L269.32,632.15 L272.53,627.28 L275.80,622.32 L279.15,617.25 L282.56,612.09 L286.05,606.82 L289.61,601.44 L293.26,595.95 L296.99,590.34 L300.80,584.60 L304.71,578.73 L308.71,572.72 L312.82,566.58 L317.03,560.28 L321.35,553.82 L325.79,547.19 L330.35,540.39 L335.04,533.41 L339.87,526.23 L344.85,518.85 L349.98,511.25 L355.27,503.41 L360.74,495.33 L366.39,486.99 L372.24,478.37 L378.31,469.45 L384.60,460.21 L391.14,450.63 M299.53,641.62 L302.55,636.93 L305.62,632.15 L308.76,627.28 L311.96,622.32 L315.23,617.25 L318.57,612.09 L321.98,606.82 L325.46,601.44 L329.03,595.95 L332.67,590.34 L336.41,584.60 L340.23,578.73 L344.15,572.72 L348.16,566.58 L352.28,560.28 L356.51,553.82 L360.85,547.19 L365.32,540.39 L369.91,533.41 L374.64,526.23 L379.51,518.85 L384.53,511.25 L389.72,503.41 L395.07,495.33 L400.61,486.99 L406.34,478.37 L412.29,469.45 L418.46,460.21 L424.86,450.63 M326.35,641.62 L329.31,636.93 L332.33,632.15 L335.42,627.28 L338.56,622.32 L341.77,617.25 L345.05,612.09 L348.41,606.82 L351.83,601.44 L355.34,595.95 L358.92,590.34 L362.59,584.60 L366.35,578.73 L370.20,572.72 L374.15,566.58 L378.20,560.28 L382.36,553.82 L386.63,547.19 L391.03,540.39 L395.54,533.41 L400.20,526.23 L404.99,518.85 L409.93,511.25 L415.04,503.41 L420.31,495.33 L425.76,486.99 L431.41,478.37 L437.26,469.45 L443.33,460.21 L449.65,450.63 M365.56,641.62 L368.45,636.93 L371.39,632.15 L374.39,627.28 L377.45,622.32 L380.58,617.25 L383.78,612.09 L387.04,606.82 L390.38,601.44 L393.79,595.95 L397.28,590.34 L400.86,584.60 L404.52,578.73 L408.28,572.72 L412.13,566.58 L416.08,560.28 L420.13,553.82 L424.30,547.19 L428.59,540.39 L432.99,533.41 L437.53,526.23 L442.21,518.85 L447.04,511.25 L452.02,503.41 L457.17,495.33 L462.49,486.99 L468.00,478.37 L473.72,469.45 L479.66,460.21 L485.83,450.63 M394.43,641.62 L397.26,636.93 L400.14,632.15 L403.08,627.28 L406.08,622.32 L409.14,617.25 L412.27,612.09 L415.47,606.82 L418.74,601.44 L422.09,595.95 L425.51,590.34 L429.02,584.60 L432.61,578.73 L436.29,572.72 L440.07,566.58 L443.94,560.28 L447.92,553.82 L452.01,547.19 L456.21,540.39 L460.54,533.41 L464.99,526.23 L469.59,518.85 L474.32,511.25 L479.21,503.41 L484.27,495.33 L489.50,486.99 L494.91,478.37 L500.53,469.45 L506.36,460.21 L512.42,450.63 M436.65,641.62 L439.39,636.93 L442.18,632.15 L445.03,627.28 L447.94,622.32 L450.91,617.25 L453.94,612.09 L457.04,606.82 L460.21,601.44 L463.46,595.95 L466.78,590.34 L470.18,584.60 L473.67,578.73 L477.24,572.72 L480.91,566.58 L484.67,560.28 L488.53,553.82 L492.50,547.19 L496.59,540.39 L500.79,533.41 L505.12,526.23 L509.58,518.85 L514.18,511.25 L518.94,503.41 L523.85,495.33 L528.94,486.99 L534.21,478.37 L539.67,469.45 L545.35,460.21 L551.25,450.63 M467.72,641.62 L470.39,636.93 L473.12,632.15 L475.90,627.28 L478.74,622.32 L481.64,617.25 L484.60,612.09 L487.63,606.82 L490.73,601.44 L493.89,595.95 L497.14,590.34 L500.46,584.60 L503.87,578.73 L507.36,572.72 L510.94,566.58 L514.62,560.28 L518.40,553.82 L522.28,547.19 L526.27,540.39 L530.38,533.41 L534.62,526.23 L538.98,518.85 L543.49,511.25 L548.14,503.41 L552.95,495.33 L557.93,486.99 L563.09,478.37 L568.44,469.45 L574.00,460.21 L579.78,450.63 M492.48,641.62 L495.09,636.93 L497.76,632.15 L500.49,627.28 L503.27,622.32 L506.11,617.25 L509.02,612.09 L511.99,606.82 L515.02,601.44 L518.13,595.95 L521.31,590.34 L524.57,584.60 L527.92,578.73 L531.34,572.72 L534.86,566.58 L538.46,560.28 L542.17,553.82 L545.98,547.19 L549.90,540.39 L553.94,533.41 L558.10,526.23 L562.39,518.85 L566.81,511.25 L571.38,503.41 L576.11,495.33 L581.00,486.99 L586.07,478.37 L591.34,469.45 L596.80,460.21 L602.49,450.63 M522.31,641.62 L524.86,636.93 L527.46,632.15 L530.12,627.28 L532.83,622.32 L535.61,617.25 L538.44,612.09 L541.34,606.82 L544.30,601.44 L547.34,595.95 L550.44,590.34 L553.62,584.60 L556.89,578.73 L560.23,572.72 L563.66,566.58 L567.19,560.28 L570.81,553.82 L574.54,547.19 L578.37,540.39 L582.31,533.41 L586.38,526.23 L590.57,518.85 L594.90,511.25 L599.37,503.41 L603.99,495.33 L608.78,486.99 L613.75,478.37 L618.89,469.45 L624.24,460.21 L629.81,450.63 M546.48,641.62 L548.97,636.93 L551.52,632.15 L554.12,627.28 L556.78,622.32 L559.49,617.25 L562.27,612.09 L565.11,606.82 L568.01,601.44 L570.98,595.95 L574.03,590.34 L577.15,584.60 L580.34,578.73 L583.62,572.72 L586.99,566.58 L590.45,560.28 L594.00,553.82 L597.65,547.19 L601.41,540.39 L605.28,533.41 L609.27,526.23 L613.38,518.85 L617.63,511.25 L622.02,503.41 L626.56,495.33 L631.26,486.99 L636.14,478.37 L641.19,469.45 L646.45,460.21 L651.92,450.63 M572.98,641.62 L575.42,636.93 L577.91,632.15 L580.45,627.28 L583.04,622.32 L585.69,617.25 L588.40,612.09 L591.18,606.82 L594.01,601.44 L596.92,595.95 L599.89,590.34 L602.94,584.60 L606.07,578.73 L609.27,572.72 L612.56,566.58 L615.94,560.28 L619.42,553.82 L622.99,547.19 L626.67,540.39 L630.46,533.41 L634.36,526.23 L638.39,518.85 L642.55,511.25 L646.85,503.41 L651.29,495.33 L655.90,486.99 L660.67,478.37 L665.63,469.45 L670.78,460.21 L676.14,450.63 M600.03,641.62 L602.40,636.93 L604.83,632.15 L607.30,627.28 L609.83,622.32 L612.42,617.25 L615.06,612.09 L617.77,606.82 L620.53,601.44 L623.37,595.95 L626.27,590.34 L629.25,584.60 L632.30,578.73 L635.43,572.72 L638.64,566.58 L641.94,560.28 L645.34,553.82 L648.83,547.19 L652.42,540.39 L656.12,533.41 L659.94,526.23 L663.88,518.85 L667.95,511.25 L672.15,503.41 L676.50,495.33 L681.01,486.99 L685.68,478.37 L690.53,469.45 L695.58,460.21 L700.83,450.63 M622.50,641.62 L624.83,636.93 L627.20,632.15 L629.62,627.28 L632.09,622.32 L634.62,617.25 L637.21,612.09 L639.86,606.82 L642.57,601.44 L645.34,595.95 L648.19,590.34 L651.10,584.60 L654.09,578.73 L657.15,572.72 L660.30,566.58 L663.54,560.28 L666.87,553.82 L670.29,547.19 L673.81,540.39 L677.44,533.41 L681.18,526.23 L685.05,518.85 L689.04,511.25 L693.16,503.41 L697.43,495.33 L701.86,486.99 L706.44,478.37 L711.21,469.45 L716.16,460.21 L721.32,450.63 M645.29,641.62 L647.56,636.93 L649.88,632.15 L652.25,627.28 L654.66,622.32 L657.14,617.25 L659.67,612.09 L662.26,606.82 L664.91,601.44 L667.62,595.95 L670.40,590.34 L673.25,584.60 L676.18,578.73 L679.18,572.72 L682.26,566.58 L685.43,560.28 L688.68,553.82 L692.04,547.19 L695.49,540.39 L699.04,533.41 L702.71,526.23 L706.50,518.85 L710.41,511.25 L714.45,503.41 L718.64,495.33 L722.98,486.99 L727.48,478.37 L732.15,469.45 L737.01,460.21 L742.08,450.63 M664.78,641.62 L667.00,636.93 L669.27,632.15 L671.59,627.28 L673.97,622.32 L676.39,617.25 L678.87,612.09 L681.41,606.82 L684.00,601.44 L686.67,595.95 L689.39,590.34 L692.19,584.60 L695.06,578.73 L698.00,572.72 L701.03,566.58 L704.14,560.28 L707.34,553.82 L710.63,547.19 L714.02,540.39 L717.51,533.41 L721.11,526.23 L724.83,518.85 L728.67,511.25 L732.65,503.41 L736.76,495.33 L741.03,486.99 L745.45,478.37 L750.05,469.45 L754.83,460.21 L759.81,450.63" stroke="#1e90ff" stroke-width="1.667" stroke-dasharray="1.67 2.75"/>
</g>
<g clip-path="url(#ax)" fill="none" stroke-linejoin="round" stroke-linecap="butt">
<path d="M373.70,36.55 L372.30,41.30 L370.30,46.90 L367.80,52.60 L365.30,58.20 L362.50,63.90 L359.30,69.50 L355.90,75.20 L352.00,80.80 L347.50,86.50 L342.40,91.60 L336.50,96.10 L330.20,100.10 L323.40,104.00 L316.50,108.20 L311.80,111.90 L308.60,115.80 L307.50,120.30 L307.85,124.90 L309.00,129.40 L309.80,133.90 L309.80,138.40 L309.00,142.90 L306.70,147.50 L302.80,152.00 L298.25,155.90 L293.20,160.45 L288.60,165.00 L285.25,169.50 L282.80,174.00 L280.00,180.00 L276.90,186.95 L275.10,192.60 L274.60,197.10 L275.80,201.60 L278.50,206.20 L281.60,210.70 L284.20,215.20 L285.10,218.60 L284.50,222.50 L282.00,226.50 L278.25,230.45 L274.30,233.80 L271.70,237.20 L270.90,240.10 L272.00,243.10 L275.50,246.50 L281.20,249.50 L288.00,253.00 L295.40,256.70 L302.15,260.60 L307.20,264.60 L309.70,268.25 L310.10,271.60 L308.90,275.00 L306.10,279.00 L301.60,282.90 L295.40,286.90 L287.50,290.80 L279.50,295.00 L272.20,299.30 L266.00,303.80 L262.60,307.80 L260.90,312.30 L259.50,316.20 L257.50,321.30 L255.50,326.95 L254.30,332.60 L253.80,337.10 L255.20,341.10 L259.15,345.00 L263.70,349.00 L268.20,352.90 L271.90,356.90 L273.60,360.85 L273.30,364.20 L271.00,367.60 L266.50,371.00 L260.30,374.40 L253.50,377.60 L246.20,380.60 L240.00,383.10 L234.00,385.90 L228.80,388.80 L226.55,391.90 L226.90,395.25 L229.60,399.20 L235.00,403.20 L241.80,406.55 L248.00,409.90 L253.10,414.50 L258.20,419.50 L262.15,424.10 L265.00,428.60 L267.20,433.10 L267.80,436.50 L266.40,439.00 L262.70,441.20 L256.50,443.50 L248.60,446.30 L240.70,449.15 L233.30,451.90 L226.30,454.40 L222.60,457.00 L221.80,459.60 L222.90,462.40 L220.90,465.80 L217.50,468.60 L216.60,471.50 L217.85,474.90 L221.50,477.70 L228.25,479.90 L237.30,481.90 L247.50,483.45 L257.60,485.00 L267.80,486.50 L276.30,487.85 L287.60,489.40 L298.90,491.20 L307.90,492.90 L314.70,494.90 L320.40,497.10 L323.80,499.90 L325.20,503.30 L324.70,506.70 L322.60,510.10 L322.10,512.90 L323.20,515.80 L322.10,518.40 L317.00,520.30 L311.30,522.30 L307.40,524.80 L304.50,528.20 L301.20,531.60 L298.00,535.20 L295.50,538.40 L290.40,540.60 L286.50,542.90 L287.60,544.60 L293.25,546.30 L301.20,548.20 L309.10,549.80 L313.70,551.20 L323.90,552.90 L332.90,554.60 L340.85,556.55 L348.80,559.15 L355.50,561.60 L359.50,563.90 L360.60,565.90 L358.90,568.20 L354.40,570.45 L347.60,572.70 L339.70,575.00 L332.90,576.90 L329.00,578.60 L328.20,580.10 L330.10,581.75 L335.20,583.30 L342.00,585.00 L348.80,587.10 L355.00,589.70 L360.10,592.50 L363.40,595.30 L365.50,597.20" stroke="#008000" stroke-width="2.8"/>
<path d="M448.80,36.50 L444.60,41.30 L440.10,46.90 L436.20,52.60 L432.80,58.20 L430.30,63.90 L428.50,69.50 L427.30,75.20 L426.80,80.80 L426.70,86.50 L427.00,92.10 L427.10,97.80 L426.70,103.40 L425.20,110.20 L423.30,116.30 L420.90,121.90 L419.00,127.60 L417.90,133.20 L417.40,138.90 L417.40,144.50 L417.90,150.20 L418.50,155.80 L419.50,161.50 L420.80,167.10 L422.10,172.80 L423.60,178.40 L425.00,182.50 L425.90,185.65 L427.10,191.30 L428.20,196.90 L429.20,202.60 L430.10,208.20 L430.80,213.90 L431.20,219.50 L431.70,225.20 L432.30,230.80 L432.80,236.50 L433.30,241.00 L433.05,245.50 L432.00,250.10 L430.10,254.60 L426.90,259.00 L422.80,263.60 L419.00,268.10 L416.20,272.60 L414.50,277.10 L413.80,281.60 L414.10,286.20 L415.10,290.70 L416.60,295.20 L418.50,299.70 L420.70,304.20 L423.30,308.80 L426.20,313.30 L429.30,317.80 L432.50,322.30 L434.90,325.65 L439.00,331.30 L443.40,336.90 L447.70,342.60 L451.60,348.20 L455.60,353.90 L459.30,359.50 L462.90,365.20 L466.60,370.80 L470.30,376.50 L474.20,382.10 L478.80,387.80 L483.50,393.40 L485.30,395.65 L489.40,401.30 L493.50,406.90 L497.50,412.60 L501.40,418.20 L505.30,423.90 L509.00,429.50 L512.70,435.20 L516.30,440.80 L518.80,446.50 L520.50,452.10 L522.50,457.80 L524.80,463.40 L525.80,465.65 L529.20,471.30 L532.40,476.90 L535.60,482.60 L539.00,488.20 L542.70,493.90 L546.30,499.00 L548.80,504.10 L550.50,509.70 L551.75,515.40 L553.10,521.00 L554.50,526.70 L555.70,531.50 L556.55,534.50 L558.50,539.00 L560.70,543.60 L563.00,548.10 L565.00,552.60 L567.30,557.10 L570.45,561.60 L573.80,566.20 L576.90,570.70 L579.40,575.20 L581.10,579.70 L582.90,584.20 L584.80,588.80 L587.10,593.30 L589.10,597.50" stroke="#ff0000" stroke-width="2.8"/>
</g>
<g font-family="DejaVu Sans, Liberation Sans, sans-serif" font-weight="bold" font-size="12.4" text-anchor="middle" clip-path="url(#ax)">
<text transform="translate(236.55,53.65) rotate(-45)" y="4.4" font-size="12.1" fill="#1f77b4">-100</text>
<text transform="translate(259.60,104.24) rotate(-45)" y="4.4" font-size="12.1" fill="#1f77b4">-90</text>
<text transform="translate(285.33,152.14) rotate(-45)" y="4.4" font-size="12.1" fill="#1f77b4">-80</text>
<text transform="translate(313.48,197.62) rotate(-45)" y="4.4" font-size="12.1" fill="#1f77b4">-70</text>
<text transform="translate(343.82,240.91) rotate(-45)" y="4.4" font-size="12.1" fill="#1f77b4">-60</text>
<text transform="translate(376.15,282.22) rotate(-45)" y="4.4" font-size="12.1" fill="#1f77b4">-50</text>
<text transform="translate(410.29,321.71) rotate(-45)" y="4.4" font-size="12.1" fill="#1f77b4">-40</text>
<text transform="translate(446.08,359.55) rotate(-45)" y="4.4" font-size="12.1" fill="#1f77b4">-30</text>
<text transform="translate(483.40,395.87) rotate(-45)" y="4.4" font-size="12.1" fill="#1f77b4">-20</text>
<text transform="translate(522.13,430.77) rotate(-45)" y="4.4" font-size="12.1" fill="#1f77b4">-10</text>
<text transform="translate(562.16,464.38) rotate(-45)" y="4.4" font-size="12.1" fill="#7f7f7f">0</text>
<text transform="translate(603.40,496.77) rotate(-45)" y="4.4" font-size="12.1" fill="#d62728">10</text>
<text transform="translate(645.76,528.04) rotate(-45)" y="4.4" font-size="12.1" fill="#d62728">20</text>
<text transform="translate(689.17,558.26) rotate(-45)" y="4.4" font-size="12.1" fill="#d62728">30</text>
<text transform="translate(733.56,587.50) rotate(-45)" y="4.4" font-size="12.1" fill="#d62728">40</text>
<text transform="translate(222.33,439.61) rotate(-30)" y="4.6" font-size="12.7" fill="#1e90ff">0.1</text>
<text transform="translate(269.17,439.61) rotate(-30)" y="4.6" font-size="12.7" fill="#1e90ff">0.2</text>
<text transform="translate(319.13,439.61) rotate(-30)" y="4.6" font-size="12.7" fill="#1e90ff">0.4</text>
<text transform="translate(349.94,439.61) rotate(-30)" y="4.6" font-size="12.7" fill="#1e90ff">0.6</text>
<text transform="translate(390.54,442.94) rotate(-30)" y="4.6" font-size="12.7" fill="#1e90ff">1</text>
<text transform="translate(424.26,439.61) rotate(-30)" y="4.6" font-size="12.7" fill="#1e90ff">1.5</text>
<text transform="translate(449.05,442.94) rotate(-30)" y="4.6" font-size="12.7" fill="#1e90ff">2</text>
<text transform="translate(485.23,442.94) rotate(-30)" y="4.6" font-size="12.7" fill="#1e90ff">3</text>
<text transform="translate(511.82,442.94) rotate(-30)" y="4.6" font-size="12.7" fill="#1e90ff">4</text>
<text transform="translate(550.65,442.94) rotate(-30)" y="4.6" font-size="12.7" fill="#1e90ff">6</text>
<text transform="translate(579.18,442.94) rotate(-30)" y="4.6" font-size="12.7" fill="#1e90ff">8</text>
<text transform="translate(601.89,440.79) rotate(-30)" y="4.6" font-size="12.7" fill="#1e90ff">10</text>
<text transform="translate(629.21,440.79) rotate(-30)" y="4.6" font-size="12.7" fill="#1e90ff">13</text>
<text transform="translate(651.32,440.79) rotate(-30)" y="4.6" font-size="12.7" fill="#1e90ff">16</text>
<text transform="translate(675.54,440.79) rotate(-30)" y="4.6" font-size="12.7" fill="#1e90ff">20</text>
<text transform="translate(700.23,440.79) rotate(-30)" y="4.6" font-size="12.7" fill="#1e90ff">25</text>
<text transform="translate(720.72,440.79) rotate(-30)" y="4.6" font-size="12.7" fill="#1e90ff">30</text>
<text transform="translate(741.48,440.79) rotate(-30)" y="4.6" font-size="12.7" fill="#1e90ff">36</text>
<text transform="translate(759.21,440.79) rotate(-30)" y="4.6" font-size="12.7" fill="#1e90ff">42</text>
</g>
<rect x="90.5" y="36.5" width="663" height="606" fill="none" stroke="#000" stroke-width="1.333"/>
<path d="M90.5,36.50 h-6.2 M90.5,215.50 h-6.2 M90.5,319.50 h-6.2 M90.5,393.50 h-6.2 M90.5,451.50 h-6.2 M90.5,498.50 h-6.2 M90.5,537.50 h-6.2 M90.5,572.50 h-6.2 M90.5,602.50 h-6.2 M90.5,629.50 h-6.2 M90.50,642.5 v6.2 M164.50,642.5 v6.2 M238.50,642.5 v6.2 M311.50,642.5 v6.2 M385.50,642.5 v6.2 M459.50,642.5 v6.2 M532.50,642.5 v6.2 M606.50,642.5 v6.2 M679.50,642.5 v6.2 M753.50,642.5 v6.2" stroke="#000" stroke-width="1.333" fill="none"/>
<g font-family="DejaVu Sans, Liberation Sans, sans-serif" font-size="16.67" fill="#000">
<text x="79.28" y="44.06" text-anchor="end">100</text>
<text x="79.28" y="222.49" text-anchor="end">200</text>
<text x="79.28" y="326.87" text-anchor="end">300</text>
<text x="79.28" y="400.93" text-anchor="end">400</text>
<text x="79.28" y="458.37" text-anchor="end">500</text>
<text x="79.28" y="505.30" text-anchor="end">600</text>
<text x="79.28" y="544.98" text-anchor="end">700</text>
<text x="79.28" y="579.36" text-anchor="end">800</text>
<text x="79.28" y="609.68" text-anchor="end">900</text>
<text x="79.28" y="636.80" text-anchor="end">1000</text>
<text x="90.68" y="668.00" text-anchor="middle">−40</text>
<text x="164.31" y="668.00" text-anchor="middle">−30</text>
<text x="237.95" y="668.00" text-anchor="middle">−20</text>
<text x="311.58" y="668.00" text-anchor="middle">−10</text>
<text x="385.21" y="668.00" text-anchor="middle">0</text>
<text x="458.85" y="668.00" text-anchor="middle">10</text>
<text x="532.48" y="668.00" text-anchor="middle">20</text>
<text x="606.11" y="668.00" text-anchor="middle">30</text>
<text x="679.75" y="668.00" text-anchor="middle">40</text>
<text x="753.38" y="668.00" text-anchor="middle">50</text>
<text x="421.73" y="692.40" text-anchor="middle">Temperature (°C)</text>
<text transform="translate(24.30,339.80) rotate(-90)" text-anchor="middle">Pressure (hPa)</text>
<text x="421.73" y="27.40" text-anchor="middle" font-size="20">wetPf2_C2E4.2025.353.20.46.E02</text>
</g>
</svg>
</body></html>
